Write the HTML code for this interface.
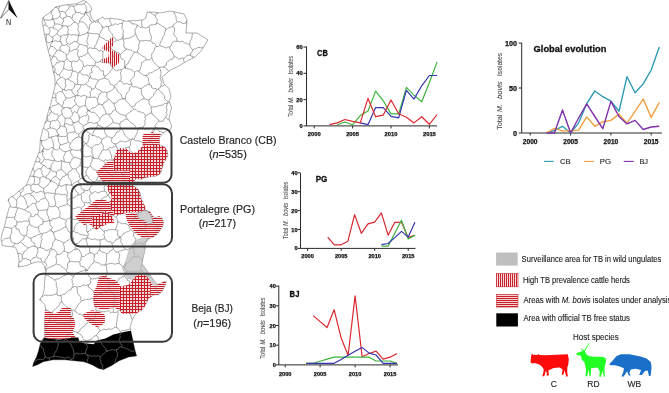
<!DOCTYPE html>
<html><head><meta charset="utf-8"><style>
html,body{margin:0;padding:0;background:#fff;overflow:hidden;}
svg{display:block;font-family:"Liberation Sans",sans-serif;will-change:transform;}
</style></head><body>
<svg width="669" height="393" viewBox="0 0 669 393">
<defs>
<pattern id="hz" width="4" height="2" patternUnits="userSpaceOnUse"><rect width="4" height="2" fill="#f8e4e4"/><rect width="4" height="1" fill="#c81e2a"/></pattern>
<pattern id="vt" width="2" height="4" patternUnits="userSpaceOnUse"><rect width="2" height="4" fill="#f8e4e4"/><rect width="1" height="4" fill="#c81e2a"/></pattern>
<pattern id="grid" width="3" height="3" patternUnits="userSpaceOnUse"><rect width="3" height="3" fill="#f6dcdc"/><rect width="3" height="1" fill="#c81e2a"/><rect width="1" height="3" fill="#c81e2a"/></pattern>
<pattern id="lg_vt" width="2" height="4" patternUnits="userSpaceOnUse"><rect width="2" height="4" fill="#f6dada"/><rect width="1" height="4" fill="#c8202a"/></pattern>
<pattern id="lg_hz" width="4" height="2" patternUnits="userSpaceOnUse"><rect width="4" height="2" fill="#f3d2d2"/><rect width="4" height="1" fill="#c8202a"/></pattern>
</defs>
<polygon points="42.2,22.4 43.2,17.3 50.4,12.0 55.4,7.0 64.6,5.0 76.8,3.7 83.0,0.5 86.0,1.5 90.7,6.0 91.5,9.0 90.0,13.7 92.2,19.8 95.3,21.4 103.0,16.8 104.4,19.0 110.5,18.3 116.6,19.0 121.2,19.8 125.8,21.4 130.4,20.6 136.5,20.6 142.6,19.8 145.6,18.3 147.2,12.2 153.3,12.2 160.0,13.0 170.5,11.0 184.0,14.0 187.0,20.0 186.0,33.0 197.0,33.0 208.0,40.0 201.0,51.0 195.0,57.0 187.0,61.0 177.0,67.0 170.5,70.0 162.0,77.0 164.0,84.0 169.0,88.5 171.0,97.0 169.0,101.0 171.5,107.6 170.2,112.7 168.9,119.0 171.5,125.4 170.8,129.2 165.0,131.5 161.7,134.9 159.4,137.2 159.4,144.8 164.8,147.1 167.1,150.9 167.8,155.5 165.5,160.1 163.2,163.9 161.7,169.3 160.2,173.8 155.6,176.1 149.5,176.9 144.9,177.6 141.9,179.2 135.8,178.4 131.5,185.1 137.7,188.7 140.4,194.0 141.3,199.4 143.1,203.0 144.9,206.5 144.9,210.1 150.2,211.9 152.0,215.4 154.7,218.1 159.1,216.3 161.8,218.1 163.6,221.7 162.7,226.1 160.0,230.6 157.3,234.1 153.8,236.8 148.4,238.6 145.4,243.4 144.5,251.4 142.8,258.5 141.9,263.9 147.2,271.0 150.5,276.0 153.5,279.9 157.1,284.8 161.3,283.1 163.7,281.5 166.2,281.5 165.4,284.8 163.7,288.1 162.1,291.4 157.9,294.7 154.6,294.7 151.3,296.4 148.0,298.9 146.4,303.0 144.7,306.3 142.2,309.6 139.7,311.3 136.4,313.0 134.8,315.0 132.4,319.8 130.0,327.0 130.8,330.7 132.7,339.4 134.7,349.1 136.6,356.0 128.8,356.9 119.1,360.8 111.3,365.7 103.6,369.6 98.7,368.6 91.9,364.7 84.1,361.8 74.4,360.8 64.7,359.8 53.0,359.8 43.3,361.8 37.5,364.7 32.6,366.6 33.6,362.8 36.5,356.9 38.5,351.1 40.4,343.3 43.3,338.5 44.8,336.5 44.5,325.8 44.8,316.6 45.6,310.5 44.8,304.4 41.8,301.4 39.5,299.8 41.8,296.8 43.3,293.7 44.1,289.2 44.8,280.0 45.8,271.6 44.3,265.5 41.2,262.5 38.2,261.7 32.0,263.2 29.0,264.8 22.9,266.3 18.3,267.0 19.1,261.0 18.3,254.8 16.8,250.3 15.3,247.2 9.2,246.5 2.3,245.7 1.5,241.0 1.0,239.9 2.0,233.8 4.1,227.7 6.1,219.6 8.1,211.4 10.2,205.3 8.1,200.2 9.1,198.2 14.2,195.2 20.3,190.0 26.4,185.0 30.5,174.6 33.6,166.5 36.6,158.3 39.7,150.2 40.4,139.2 42.4,131.0 44.4,125.0 46.5,118.9 48.5,110.7 50.5,104.6 52.6,96.5 55.0,86.0 55.0,78.0 53.0,70.0 51.0,61.0 48.3,51.0 45.9,40.7 44.2,32.6" fill="#fff" stroke="#777" stroke-width="0.6"/>
<path id="mun" d="M22.1,255.0 L23.5,253.9 L23.9,251.8 L25.6,250.9 L26.9,249.6 L27.7,247.9M22.1,255.0 L22.2,257.7M37.7,249.0 L38.0,251.1 L37.3,252.9 L36.7,254.8 L36.2,256.7M37.7,249.0 L37.1,247.1 L35.2,246.7M36.2,256.7 L35.0,257.9 L32.8,257.8 L31.8,259.4 L30.6,260.6M35.2,246.7 L33.1,246.1 L31.3,246.4 L29.5,247.5 L27.7,247.9M22.2,257.7 L23.7,258.7 L25.7,258.4 L27.3,259.4 L29.0,259.9 L30.6,260.6M71.1,310.0 L70.0,308.6 L68.3,307.8 L66.7,306.9 L65.3,305.8 L64.1,304.5 L62.9,303.2 L62.0,301.5M71.1,310.0 L72.2,311.8 L72.6,313.6 L72.7,315.3 L70.9,316.7 L70.6,318.3 L70.3,320.0 L70.8,321.7 L69.4,323.2M69.4,323.2 L67.7,323.0 L66.0,323.0 L64.2,323.3 L62.5,323.3 L60.8,323.3 L59.1,324.0 L57.4,323.5 L55.8,322.4 L54.1,322.3 L52.4,322.2 L50.7,322.4 L49.2,321.0M49.2,321.0 L49.6,319.4 L49.8,317.8 L50.5,316.3 L51.3,314.8M51.3,314.8 L52.5,313.6 L52.6,311.4 L53.7,310.2 L55.2,309.2 L56.7,308.1 L57.6,306.7 L58.8,305.5 L59.8,304.1 L60.3,302.3 L62.0,301.5M51.3,314.8 L50.4,313.1 L49.5,311.5 L47.9,310.7 L46.2,310.1 L45.4,308.8M62.0,301.5 L61.3,299.6 L61.8,297.2 L59.8,295.7M56.9,293.6 L57.7,295.5 L59.8,295.7M56.9,293.6 L55.3,294.4 L53.6,294.6 L52.1,295.6 L50.3,295.3 L48.6,295.2 L47.0,295.4 L45.2,295.0 L43.6,295.8 L42.1,297.0 L41.8,296.8M40.4,298.6 L40.4,299.7 L40.3,300.3M47.0,325.8 L47.6,324.2 L47.9,322.4 L49.2,321.0M47.0,325.8 L45.3,325.2 L44.5,325.2M22.1,255.0 L20.8,253.7 L19.0,253.4 L17.9,253.7M27.7,247.9 L26.5,246.7 L25.1,245.9 L23.8,245.0 L22.9,243.6 L21.4,242.9 L20.3,241.7M20.3,241.7 L18.8,243.5 L16.9,243.7 L14.8,243.1M14.8,243.1 L14.7,244.8 L12.4,246.4 L12.9,246.9M69.4,323.2 L70.2,324.7 L70.8,326.4 L71.4,328.0 L72.3,329.5 L73.1,331.1M47.0,325.8 L46.5,327.7 L46.5,329.5 L46.0,331.4 L47.5,333.2M65.4,339.5 L66.2,338.0 L66.5,336.1 L68.3,335.5 L69.4,334.3 L70.0,332.7 L72.1,332.4 L73.1,331.1M65.4,339.5 L64.0,340.8 L62.3,341.3 L60.4,341.5 L58.7,342.2M47.5,333.2 L49.1,333.7 L50.2,334.8 L51.3,336.1 L52.9,336.6 L53.7,338.2 L55.3,338.8 L56.5,339.8 L57.2,341.5 L58.7,342.2M141.0,310.4 L140.9,310.4 L139.6,308.9 L138.1,307.9 L136.5,307.3 L135.1,306.0 L133.3,305.6M132.5,319.7 L131.8,318.7 L131.5,317.1 L130.7,315.5 L130.5,313.8 L131.3,311.8 L131.6,309.9 L129.9,308.7M133.3,305.6 L131.0,306.5 L129.9,308.7M71.1,310.0 L73.0,310.0 L74.6,310.9M76.5,332.2 L74.8,331.6 L73.1,331.1M76.5,332.2 L78.6,332.1 L79.6,330.8 L80.2,329.0 L81.6,328.1 L82.8,327.1 L84.3,326.4 L85.0,324.7 L86.5,324.0 L87.4,322.6 L88.6,321.4 L89.2,319.7 L91.2,319.5M74.6,310.9 L76.0,311.9 L77.3,313.0 L78.6,314.1 L80.5,314.2 L81.9,315.2 L83.6,315.6 L85.0,316.5 L87.0,316.4 L88.2,317.9 L89.1,319.7 L91.2,319.5M192.8,49.7 L194.3,49.0 L196.0,48.8 L197.4,47.7 L199.0,47.4 L200.8,47.8 L202.5,47.7 L203.1,47.7M192.8,49.7 L192.1,51.9 L190.7,53.7M192.9,58.1 L193.0,56.3 L190.5,56.0 L190.7,53.7M192.8,49.7 L191.1,48.3 L190.2,46.3 L189.6,44.2M189.6,44.2 L187.9,44.2 L186.6,42.9 L184.9,43.2 L183.5,42.0 L182.1,41.2 L180.2,42.1 L178.7,41.4 L177.1,41.3M190.7,53.7 L189.4,55.3 L187.1,55.5 L185.5,56.8 L184.1,58.2M184.1,58.2 L182.4,58.1 L180.5,58.6 L178.6,59.3 L177.2,57.7 L175.6,57.1 L174.1,56.1M174.1,56.1 L173.6,54.6 L172.6,53.2 L172.2,51.6 L170.6,50.5 L170.0,49.0 L169.9,47.2M177.1,41.3 L174.6,41.2 L172.8,41.9 L171.6,43.5 L171.1,45.7 L169.9,47.2M189.6,44.2 L190.0,42.5 L190.2,40.7 L191.4,39.1 L192.0,37.4 L192.1,35.6 L192.4,33.9 L192.3,33.0M46.3,268.9 L45.3,267.4 L46.6,265.4 L46.3,263.8 L44.6,262.5M46.3,268.9 L47.9,267.9 L49.7,267.4 L51.4,266.6 L53.0,265.7 L54.8,265.2 L56.1,263.7M44.6,262.5 L45.1,260.9 L45.5,259.1 L47.2,258.1 L47.5,256.2 L49.2,255.2 L49.3,253.3 L49.4,251.4 L51.2,250.5 L52.4,249.1M52.4,249.1 L54.4,249.6 L55.5,251.0 L56.7,252.3 L57.1,254.3M56.1,263.7 L56.4,261.8 L56.9,260.0 L56.0,258.0 L55.9,256.1 L57.1,254.3M46.3,268.9 L46.0,270.8 L45.8,271.6M44.6,262.5 L42.9,262.0 L41.4,261.2 L41.1,258.6 L39.3,258.2 L37.5,257.7 L36.2,256.7M30.6,260.6 L30.7,262.5 L30.9,263.8M45.4,275.0 L45.5,275.1 L47.5,275.3 L49.1,276.2 L50.3,277.5 L52.1,278.0 L53.4,279.4 L54.9,280.3M54.9,280.3 L56.2,281.9 L56.3,283.5 L56.2,285.2 L56.8,286.8 L57.1,288.5 L57.5,290.1 L56.8,291.9 L56.9,293.6M1.6,241.7 L2.4,241.0 L3.6,239.7 L4.9,238.4 L6.8,238.7 L8.3,237.9 L10.2,238.1M10.2,238.1 L10.9,239.7 L11.1,241.8 L12.6,242.8 L14.8,243.1M86.9,362.8 L87.6,361.4 L87.2,359.7 L88.2,358.2 L88.2,356.5 L86.9,354.8M73.9,354.8 L75.5,353.6 L77.0,353.0 L78.8,354.1 L80.4,353.6 L82.1,353.8 L83.7,353.2 L85.4,353.7M73.9,354.8 L73.8,357.0 L73.2,358.8 L70.8,359.5M86.9,354.8 L85.4,353.7M70.8,359.5 L71.3,360.5M65.4,339.5 L67.2,340.5 L68.8,341.6 L69.7,343.1 L71.1,344.3 L71.7,346.0 L72.3,347.7 L73.2,349.2 L73.5,351.0 L74.0,352.7 L73.9,354.8M76.5,332.2 L77.9,333.1 L79.5,333.9 L81.0,334.7 L82.0,336.2 L82.7,338.0 L83.9,339.2 L85.0,340.5 L86.9,341.0M86.9,341.0 L86.9,342.8 L86.7,344.6 L87.4,346.6 L86.7,348.3 L86.1,350.1 L85.6,351.8 L85.4,353.7M58.7,342.2 L58.0,343.7 L58.2,345.6 L57.3,347.1 L57.2,348.9 L56.3,350.4 L55.4,352.0 L54.6,353.5 L53.9,355.1 L53.5,356.8M53.5,356.8 L55.3,356.2 L57.0,356.6 L58.8,356.6 L60.5,357.5 L62.3,357.3 L64.0,357.8 L65.7,358.1 L67.6,357.0 L69.3,357.6 L70.8,359.5M49.7,360.5 L49.4,360.1 L49.5,358.2M53.5,356.8 L51.3,357.0 L49.5,358.2M136.1,356.1 L136.3,355.0M120.2,332.0 L121.5,330.7 L123.1,330.4 L124.9,330.6 L126.4,330.0 L128.0,329.7 L129.5,329.0 L130.3,328.4M120.2,332.0 L120.5,333.6 L119.8,335.3 L120.3,337.0 L119.7,338.7 L119.1,340.4 L119.8,342.0 L120.1,343.7 L122.3,345.2 L121.4,346.9M121.4,346.9 L122.9,347.7 L124.6,347.7 L126.0,348.5 L127.5,349.0 L129.0,349.7 L130.4,350.8 L131.9,351.2 L133.6,351.1 L135.3,351.2M114.6,363.6 L114.6,363.6 L115.0,361.9 L115.6,360.1 L116.1,358.4 L117.4,356.7 L117.4,355.0 L117.5,353.3 L116.5,351.5 L116.4,349.8M100.4,357.0 L101.7,355.7 L103.1,354.5 L104.3,353.0 L105.7,351.8 L107.6,351.1M100.4,357.0 L99.9,358.8 L100.8,360.5 L100.7,362.3 L101.6,364.0 L102.8,365.6 L102.5,367.4 L102.3,369.3M102.3,369.3 L104.1,369.4M116.4,349.8 L114.7,350.2 L112.7,349.4 L111.0,349.9 L109.3,350.6 L107.6,351.1M121.4,346.9 L119.4,347.2 L118.3,349.2 L116.4,349.8M86.9,341.0 L88.5,340.2 L90.3,339.6 L91.9,338.9 L93.2,337.3 L94.5,335.9 L96.4,335.7M96.4,335.7 L97.8,336.8 L98.4,338.5 L99.2,340.1 L99.4,342.0 L101.4,342.7 L101.9,344.5 L103.1,345.8 L104.2,347.1 L105.5,348.4 L105.9,350.2 L107.6,351.1M86.9,354.8 L88.6,355.1 L90.2,355.8 L91.8,356.3 L93.7,355.8 L95.4,355.9 L97.1,356.0 L98.8,355.8 L100.4,357.0M102.2,369.3 L102.3,369.3M40.0,344.9 L40.1,345.1 L41.5,346.4 L42.2,348.1 L44.0,349.2 L43.6,351.3 L44.4,352.9 L44.9,354.6 L45.0,356.5M34.3,361.5 L35.6,360.9 L37.0,359.9 L38.8,359.5 L40.6,359.4 L42.6,359.6 L44.2,358.8 L45.0,356.5M47.5,333.2 L45.7,333.9 L44.8,335.5 L44.8,335.6M43.7,338.0 L43.4,339.2 L42.3,340.6 L41.8,341.0M49.5,358.2 L47.1,357.7 L45.0,356.5M33.5,363.4 L33.5,363.2 L33.7,362.6M169.3,119.9 L168.3,119.7 L167.0,118.7 L165.8,117.5M164.1,132.4 L162.5,132.5 L160.9,131.7 L159.2,131.4 L158.1,129.6 L157.1,127.6 L155.1,127.9M165.8,117.5 L164.2,118.6 L163.3,120.9 L161.3,121.3 L159.1,121.2M155.1,127.9 L155.1,125.6 L156.1,123.9 L157.6,122.6 L159.1,121.2M144.8,248.6 L144.3,247.4 L143.6,245.7 L143.0,243.9M148.4,238.7 L147.3,239.1 L146.4,240.5 L145.3,241.7 L144.1,242.7 L143.0,243.9M121.4,199.9 L122.7,201.5 L122.6,203.8 L122.7,206.1 L125.5,206.7M121.4,199.9 L123.1,199.1 L124.6,198.2 L125.3,196.7 L125.9,195.1 L126.2,193.2 L127.4,192.2M138.4,200.5 L136.6,200.9 L135.0,201.6 L133.3,202.2 L132.0,203.8 L130.4,204.4 L128.7,205.2 L127.2,206.2 L125.5,206.7M138.4,200.5 L137.7,199.2M137.7,199.2 L136.7,197.5 L135.0,196.8 L133.3,196.2 L131.7,195.3 L130.2,194.4 L129.2,192.8 L127.4,192.2M157.8,294.7 L158.1,293.8 L157.4,292.1 L156.9,290.4 L155.5,288.8 L155.6,287.0 L155.7,285.3 L156.0,283.5 L156.0,283.3M119.6,236.7 L119.7,238.1M119.6,236.7 L121.0,238.0 L121.1,239.8 L120.7,241.9 L121.9,243.3 L122.5,244.9 L122.9,246.6 L124.5,247.8 L125.5,249.2M119.7,238.1 L118.0,239.0 L116.0,239.4 L114.9,241.2 L113.5,242.6 L111.6,243.2M111.6,243.2 L112.4,245.1 L112.8,247.2 L113.5,249.1M113.5,249.1 L114.7,250.5 L115.8,252.1 L117.9,252.1M117.9,252.1 L119.3,251.0 L120.9,250.8 L122.5,250.4 L124.0,249.8 L125.5,249.2M93.6,319.6 L95.2,318.3 L95.3,316.2 L95.3,314.2 L95.0,312.0 L97.2,310.9M93.6,319.6 L94.4,321.0 L95.1,322.5 L95.9,324.0 L96.6,325.4 L97.7,326.7 L98.3,328.2 L99.4,329.5 L100.2,330.9M97.2,310.9 L98.8,310.8 L100.4,311.5 L102.0,311.8 L103.6,311.7 L105.2,311.8 L106.8,311.0 L108.5,310.8 L110.0,312.1 L111.5,312.7 L113.2,312.1M100.2,330.9 L101.8,330.1 L103.3,329.2 L105.0,329.4 L106.7,329.5 L108.4,329.1 L110.1,329.2 L111.7,329.1 L113.3,328.4 L114.8,327.2 L116.6,327.7M116.6,327.7 L116.3,325.9 L116.6,324.1 L116.3,322.4 L117.3,320.6 L117.1,318.9 L117.2,317.1 L117.9,315.4 L118.3,313.6 L117.7,311.8M117.7,311.8 L115.5,312.6 L113.2,312.1M91.2,319.5 L93.6,319.6M96.4,335.7 L97.4,333.8 L98.8,332.3 L100.2,330.9M120.2,332.0 L119.4,330.2 L118.3,328.7 L116.6,327.7M129.9,308.7 L128.1,309.2 L126.6,310.4 L124.6,309.8 L123.0,311.0 L121.0,310.2 L119.1,309.9 L117.7,311.8M113.5,294.7 L115.3,296.5 L115.1,298.2 L114.6,300.0 L114.2,301.7 L113.9,303.4 L113.8,305.2 L113.0,306.9 L113.3,308.7 L113.3,310.4 L113.2,312.1M113.5,294.7 L115.2,294.7 L116.9,294.7 L118.6,294.9 L120.3,294.7 L121.9,295.1 L123.6,295.6 L125.3,295.0 L126.9,295.8 L128.6,295.5 L130.3,295.2 L132.0,295.6 L133.7,295.7M133.7,295.7 L132.5,297.3 L133.0,298.9 L133.4,300.6 L133.2,302.2 L132.9,303.9 L133.3,305.6M74.6,310.9 L75.7,309.5 L76.3,307.9 L77.4,306.4 L77.9,304.7 L79.4,303.6 L80.6,302.3 L81.4,300.7M97.2,310.9 L95.7,309.5 L96.2,307.7 L95.6,306.1 L95.7,304.4 L96.7,302.4 L96.0,300.9 L94.5,299.5M81.4,300.7 L83.1,300.5 L84.6,299.9 L86.3,299.5 L87.9,299.4 L89.5,299.2 L91.1,298.6 L92.7,298.2 L94.5,299.5M109.3,289.6 L110.2,291.0 L111.5,292.1 L112.9,293.1 L113.5,294.7M109.3,289.6 L107.9,290.6 L106.6,291.5 L105.0,291.9 L103.6,292.7 L102.0,293.1 L100.5,293.6 L98.8,293.7 L97.5,295.0 L95.9,295.2M95.9,295.2 L95.8,297.5 L94.5,299.5M168.4,101.9 L169.7,102.8M168.4,101.9 L167.8,103.1M167.8,103.1 L167.1,104.7 L166.6,106.2 L166.1,107.8 L167.1,109.5 L166.8,111.1 L166.2,112.7 L167.1,114.4 L166.0,115.9 L165.8,117.5M158.0,89.0 L160.1,87.9 L161.0,85.7M158.0,89.0 L159.1,90.3 L160.3,91.4 L161.9,92.3 L162.6,93.9 L163.7,95.1 L164.6,96.5 L164.5,98.7 L165.8,99.7 L166.9,101.0 L168.4,101.9M161.0,85.7 L162.8,86.3 L164.3,84.8 L164.7,84.6M184.1,58.2 L183.4,59.9 L184.1,61.7 L184.2,62.7M174.1,56.1 L173.4,57.8 L172.4,59.2 L170.2,59.4 L169.1,60.7 L167.7,61.6 L166.5,62.7 L166.3,64.9 L164.7,65.6 L163.9,67.2M163.9,67.2 L165.5,67.9 L166.8,69.0 L168.0,70.4 L168.8,71.4M177.1,41.3 L176.8,39.6 L176.8,37.9 L175.3,36.6 L174.2,35.1 L173.5,33.6 L174.4,31.6 L174.5,29.8 L174.6,28.0 L172.9,26.8M169.9,47.2 L168.2,47.0 L166.2,48.1 L164.6,47.3 L162.9,46.6 L161.2,46.3 L159.7,45.2M159.7,45.2 L160.1,43.5 L160.6,41.9 L161.4,40.4 L162.4,39.0 L162.5,37.2 L164.0,35.9 L164.6,34.3 L164.7,32.6 L165.3,31.0 L165.9,29.4M165.9,29.4 L167.6,28.6 L169.2,27.6 L171.0,27.0 L172.9,26.8M186.0,22.8 L186.7,23.6M186.0,22.8 L184.2,23.4 L182.5,23.5 L181.0,22.1 L179.3,21.7 L177.6,21.8M177.6,21.8 L176.1,22.7 L174.9,23.9 L173.3,24.8 L172.9,26.8M165.9,29.4 L165.0,27.5 L163.6,26.8 L162.1,26.2 L160.8,25.1 L159.3,24.5 L158.2,23.1 L155.8,24.2M173.9,11.7 L174.1,12.7 L174.7,14.2 L175.5,15.6 L176.1,17.2 L176.1,18.9 L176.5,20.5 L177.6,21.8M158.3,12.8 L157.9,13.1 L156.2,13.8 L155.3,15.4M155.8,24.2 L156.7,22.4 L157.1,20.6 L157.1,18.9 L155.5,17.2 L155.3,15.4M103.9,238.7 L105.7,239.1 L106.7,240.9 L108.3,241.8 L110.5,241.6 L111.6,243.2M103.9,238.7 L104.8,236.8 L103.6,234.9 L104.5,233.1 L104.0,231.2M119.7,238.1 L118.5,236.7 L117.6,235.0 L117.6,232.8 L117.9,230.5 L115.3,229.8M104.0,231.2 L105.6,230.5 L107.3,230.8 L108.7,229.7 L110.3,229.5 L112.0,229.4 L113.6,229.8 L115.3,229.8M121.4,199.9 L119.7,200.4 L117.9,199.2 L116.1,199.4 L114.4,200.0 L112.6,200.3M112.6,200.3 L112.1,201.9 L110.6,203.4 L110.4,205.1 L111.1,206.8 L110.9,208.5 L110.2,210.1 L110.3,211.8 L109.5,213.3 L110.4,215.2M125.5,206.7 L126.2,208.6 L126.8,210.5M126.8,210.5 L124.9,210.5 L124.2,212.4 L122.6,212.9 L120.9,213.2 L119.6,214.2 L118.1,214.7 L117.1,216.3 L115.8,217.2M115.8,217.2 L114.3,215.8 L112.3,215.7 L110.4,215.2M87.0,238.2 L87.9,236.2M87.0,238.2 L88.6,238.2 L90.1,238.9 L91.7,239.4 L93.3,239.4 L95.0,238.7 L96.5,239.8 L98.1,239.9 L99.7,239.8M87.9,236.2 L88.4,233.9 L87.2,231.8M99.7,239.8 L101.9,239.8 L103.9,238.7M104.0,231.2 L102.3,230.5 L101.6,229.0 L100.2,228.1 L99.9,226.1M87.2,231.8 L89.0,231.5 L90.2,230.0 L91.6,228.8 L93.3,228.3 L95.1,228.0 L96.6,227.3 L98.7,227.6 L99.9,226.1M115.3,229.8 L115.7,228.2 L116.8,226.8 L117.0,225.1 L117.7,223.6 L117.5,221.8M115.8,217.2 L117.1,218.5 L117.3,220.1 L117.5,221.8M110.4,215.2 L108.3,214.9 L106.7,213.6M106.7,213.6 L105.2,214.7 L104.1,216.2 L103.7,218.0 L103.3,219.8 L102.6,221.4 L102.0,223.1 L100.6,224.4M100.6,224.4 L99.9,226.1M37.7,249.0 L38.8,247.4 L40.7,247.6M52.4,249.1 L50.5,248.8M40.7,247.6 L42.3,248.3 L43.9,248.6 L45.4,249.9 L47.0,250.6 L48.8,249.7 L50.5,248.8M54.9,280.3 L55.9,278.9 L58.0,279.2 L59.4,278.3 L60.8,277.3 L62.3,276.7 L63.6,275.6 L65.5,275.5 L66.6,274.3 L67.6,272.7M56.1,263.7 L57.5,264.6 L59.5,264.7 L60.9,265.6 L62.0,267.1 L63.6,267.8 L64.7,269.1 L66.0,270.2M67.6,272.7 L66.0,270.2M22.2,257.7 L22.3,259.6 L21.4,261.2 L18.9,262.2M18.6,264.6 L18.8,265.9 L18.7,266.9M135.6,176.9 L135.6,178.7M132.9,183.0 L132.5,183.3M135.6,176.9 L134.6,175.5 L135.0,173.2 L134.6,171.5 L133.2,170.4 L132.0,169.2 L129.8,168.7 L129.3,167.0M132.5,183.3 L131.0,184.2 L129.5,185.4 L128.3,186.9 L126.2,187.0M126.2,187.0 L126.3,185.1 L125.6,183.4 L125.1,181.8 L124.3,180.2 L124.0,178.4 L123.9,176.6 L123.4,174.9 L121.7,173.7M121.7,173.7 L122.9,172.5 L124.4,171.7 L126.2,171.2 L127.5,170.1 L128.9,169.1 L129.3,167.0M135.6,176.9 L136.8,175.5 L138.7,176.0 L140.2,175.1 L141.7,174.6 L143.3,174.2M143.3,174.2 L144.2,172.7 L145.1,171.3 L146.6,170.2 L147.2,168.5M147.2,168.5 L147.4,166.8 L147.2,165.1M147.2,165.1 L145.6,164.8 L144.0,164.1 L142.3,164.2 L140.5,165.0 L138.8,165.1 L137.2,164.6 L135.5,164.3 L133.9,163.9 L132.1,164.5 L130.7,162.5M129.3,167.0 L129.5,164.6 L130.7,162.5M138.4,71.0 L139.6,72.4 L141.1,73.4 L142.5,74.4 L144.0,75.5 L146.1,75.3M138.4,71.0 L140.2,70.1 L140.3,68.0 L141.0,66.4 L141.7,64.8 L141.5,62.5 L143.6,61.9 L144.7,60.5 L146.4,59.6M146.1,75.3 L147.9,75.1 L148.9,73.3 L150.5,72.8 L152.3,72.5 L153.5,71.3 L155.0,70.4 L156.8,70.2 L158.1,69.0 L159.4,68.0M146.4,59.6 L148.5,59.9 L150.3,59.5 L151.8,57.8M151.8,57.8 L152.4,59.5 L153.1,61.3 L154.1,62.7 L155.3,64.0 L156.5,65.2 L157.9,66.3 L159.5,67.3M159.4,68.0 L159.5,67.3M134.7,72.3 L136.2,70.8 L138.4,71.0M134.7,72.3 L133.2,71.1 L131.7,70.0 L130.1,69.2 L128.2,69.0 L126.4,68.4 L124.8,67.6M137.3,52.3 L138.8,53.0 L139.9,54.3 L141.5,55.0 L142.6,56.2 L144.3,56.8 L145.6,57.8 L146.4,59.6M137.3,52.3 L134.9,52.3M134.9,52.3 L133.7,53.5 L132.8,54.9 L132.0,56.4 L130.9,57.6 L130.5,59.4 L129.2,60.5 L128.5,62.1 L128.0,63.7 L126.3,64.6 L125.6,66.1 L124.8,67.6M157.1,90.0 L155.9,88.4 L153.5,88.6 L151.8,87.7 L151.3,85.2 L149.4,84.7M157.1,90.0 L158.0,89.0M161.0,85.7 L160.9,84.1 L162.0,82.4 L161.0,80.8 L160.7,79.2 L160.0,77.7 L160.7,76.0 L160.8,74.4 L161.0,72.7 L160.6,71.1 L160.4,69.5 L159.4,68.0M149.4,84.7 L149.2,83.0 L148.6,81.5 L148.5,79.7 L148.5,78.0 L146.8,76.8 L146.1,75.3M163.9,67.2 L161.7,67.1 L159.5,67.3M159.7,45.2 L158.1,46.7 L156.0,46.5M156.0,46.5 L154.7,47.9 L154.6,49.7 L153.7,51.2 L152.5,52.6 L151.7,54.1 L151.7,55.9 L151.8,57.8M135.1,216.0 L135.1,217.2M135.1,216.0 L134.6,217.6 L133.7,219.0 L133.2,220.7 L131.6,221.6 L130.7,223.0 L129.7,224.3 L128.9,225.8M135.1,217.2 L136.1,218.8 L137.2,220.3 L138.9,221.1 L140.4,222.0 L142.4,222.4 L144.1,223.1 L145.0,225.0M134.1,232.6 L135.9,232.7 L137.3,231.8 L138.6,230.8 L139.8,229.4 L141.5,229.3 L143.1,229.0 L144.6,228.5M134.1,232.6 L132.4,231.2 L130.9,229.6M144.6,228.5 L145.5,226.8 L145.0,225.0M128.9,225.8 L129.5,227.9 L130.9,229.6M138.4,200.5 L138.9,202.1 L139.4,203.7 L139.6,205.4 L139.3,207.3 L140.6,208.6 L141.7,210.0M126.8,210.5 L128.1,211.5 L129.3,212.8 L131.2,212.9 L132.7,213.6 L134.4,214.0 L135.1,216.0M141.7,210.0 L141.3,211.8 L139.8,212.6 L138.4,213.6 L138.1,215.5 L136.7,216.5 L135.1,217.2M117.5,221.8 L119.2,222.1 L120.7,223.0 L122.3,223.7 L124.2,223.5 L125.9,223.7 L127.5,224.5 L128.9,225.8M141.7,210.0 L143.4,210.3 L145.0,210.3 L146.7,211.3 L148.3,211.3 L149.0,211.5M152.7,222.4 L151.2,223.0 L149.9,224.2 L148.4,224.8 L147.0,225.8 L145.0,225.0M152.7,222.4 L152.8,220.6 L151.9,218.9 L151.7,217.2 L151.8,215.4 L151.9,215.2M148.9,238.4 L148.4,236.7 L146.7,235.4 L145.7,233.9 L145.7,231.9 L144.8,230.4 L144.6,228.5M143.0,243.9 L141.1,243.0 L139.1,242.9 L137.2,243.3 L135.2,243.7M135.2,243.7 L135.3,241.8 L135.9,239.9 L135.6,238.1 L133.6,236.4 L133.5,234.6 L134.1,232.6M135.2,243.7 L133.7,245.2 L133.4,247.3M119.6,236.7 L121.4,236.5 L122.6,235.2 L123.3,233.3 L125.2,233.1 L126.4,231.9 L128.3,231.7 L129.6,230.7 L130.9,229.6M133.4,247.3 L132.0,248.3 L130.3,248.2 L128.8,249.1 L127.4,249.9 L125.5,249.2M152.7,222.4 L153.8,223.9 L155.1,225.1 L157.1,225.1 L158.6,225.9M152.7,237.2 L153.0,236.6 L154.0,235.2 L154.9,233.7 L156.3,232.4 L156.8,230.8 L157.1,228.9 L157.5,227.2 L158.6,225.9M158.6,225.9 L160.7,225.9 L162.3,226.8M138.1,189.5 L138.5,190.8 L139.2,192.7 L139.6,194.7M140.6,195.0 L139.6,194.7M137.7,199.2 L139.0,198.0 L139.9,196.6 L139.6,194.7M132.5,183.3 L132.6,183.3M127.4,192.2 L126.9,190.3 L124.7,189.2 L125.1,186.9M126.2,187.0 L125.1,186.9M143.3,174.2 L144.1,175.6 L145.1,176.9 L146.3,177.4M147.2,168.5 L148.8,168.9 L150.4,169.4 L152.1,169.4 L153.6,170.8 L155.2,171.1 L156.9,171.3 L158.8,170.5 L160.3,171.2M160.4,173.1 L160.4,173.0 L160.3,171.2M105.1,265.2 L103.4,264.9 L101.4,265.3 L100.2,263.7 L98.7,263.1 L97.1,262.5 L95.5,262.0 L94.2,260.9M105.1,265.2 L105.6,263.6 L106.0,262.1 L106.5,260.5 L106.6,258.9 L106.5,257.2 L106.4,255.6 L106.9,254.0M99.3,250.2 L101.0,250.6 L102.2,252.1 L103.9,252.4 L105.6,252.9 L106.9,254.0M99.3,250.2 L97.9,251.4 L97.3,253.3 L95.4,254.0 L94.4,255.6M94.4,255.6 L94.5,257.3 L93.8,259.1 L94.2,260.9M99.7,239.8 L100.2,241.6 L100.3,243.3 L100.0,245.0 L99.9,246.8 L99.8,248.5 L99.3,250.2M113.5,249.1 L112.2,250.1 L110.5,250.5 L109.6,252.1 L108.2,253.0 L106.9,254.0M87.0,238.2 L86.3,238.2M91.2,252.8 L89.3,251.6 L89.7,249.7 L90.0,247.8 L88.9,246.3 L87.2,245.1 L87.3,243.3 L86.2,241.8 L86.5,239.9 L86.3,238.2M91.2,252.8 L93.3,253.6 L94.4,255.6M152.7,295.7 L152.3,295.4 L150.8,294.1 L149.2,293.5 L147.4,294.0 L145.8,293.7 L143.9,294.2 L142.3,293.7 L140.9,292.3 L139.0,293.0 L137.3,293.0 L135.7,292.3M150.1,275.4 L149.3,275.6 L147.5,274.5M147.5,274.5 L147.8,276.7 L146.4,277.8 L145.2,278.9 L144.4,280.4 L143.0,281.4 L141.9,282.7 L140.8,283.9 L138.9,284.6 L138.2,286.1 L137.8,287.8 L137.6,289.6 L136.3,290.7 L135.7,292.3M133.7,295.7 L133.9,293.2M133.9,293.2 L135.7,292.3M142.7,259.3 L142.4,259.3M133.4,247.3 L134.0,249.3 L133.8,251.2 L134.1,253.1 L134.5,255.0 L133.0,256.8M142.4,259.3 L141.0,258.5 L139.7,256.9 L138.3,255.9 L136.4,256.8 L134.7,256.6 L133.0,256.8M147.5,274.5 L145.8,273.3 L143.8,272.6 L142.2,271.2M142.4,259.3 L142.0,261.0 L142.3,261.6M142.1,264.1 L142.0,264.4 L141.3,266.1 L141.2,267.8 L140.5,269.5 L142.2,271.2M150.2,40.6 L148.4,40.9 L146.5,40.4 L144.7,40.4 L143.0,41.0 L141.1,40.4 L139.4,41.7M150.2,40.6 L151.4,38.8 L151.3,37.0 L151.0,35.3 L150.1,33.6 L149.6,31.9 L149.4,30.2 L149.6,28.4 L149.1,26.7M139.4,41.7 L139.1,39.9 L137.4,38.9 L137.0,37.1 L136.5,35.4 L135.5,34.0M135.5,34.0 L135.4,32.2 L134.9,30.3 L135.7,28.6 L136.7,27.0 L137.0,25.2M149.1,26.7 L147.5,27.4 L145.9,28.2 L144.2,27.5 L142.5,27.1M137.0,25.2 L138.8,25.9 L140.3,27.4 L142.5,27.1M137.3,52.3 L137.5,50.5 L138.7,48.9 L138.9,47.1 L138.5,45.2 L139.4,43.5 L139.4,41.7M156.0,46.5 L155.4,44.7 L154.4,43.4 L152.3,43.2 L151.8,41.4 L150.2,40.6M155.8,24.2 L154.1,24.7 L152.3,25.0 L150.3,24.9 L149.1,26.7M134.9,52.3 L133.2,51.8 L131.8,50.4 L130.0,50.0 L128.3,49.5 L126.6,48.9M135.5,34.0 L134.3,35.6 L132.8,36.5 L131.3,37.3 L129.7,38.0 L128.1,38.4 L126.3,38.4 L124.8,39.2 L122.8,38.6M126.6,48.9 L124.4,47.8 L123.9,46.0 L123.7,44.1 L124.1,42.0 L123.4,40.4 L122.8,38.6M186.0,22.8 L186.7,20.8 L186.9,20.8M155.3,15.4 L153.4,14.9 L151.9,13.4 L150.2,12.3 L149.3,12.2M142.5,27.1 L141.9,25.6 L141.5,24.0 L141.9,22.2 L141.9,20.6 L142.0,19.9M147.7,12.2 L147.2,12.3M90.8,278.5 L90.0,277.0 L88.5,275.9 L87.9,274.2 L86.7,272.9 L85.4,271.7 L85.7,269.6M90.8,278.5 L90.0,280.5 L91.0,283.0 L88.7,284.5M85.7,269.6 L84.2,270.3 L82.7,271.0 L80.9,271.3 L79.4,272.1 L77.9,272.8 L76.2,273.2 L74.8,274.1 L73.8,275.9M88.7,284.5 L87.0,285.0 L85.3,285.6 L83.4,284.9 L81.7,285.8 L80.1,286.8 L78.3,286.6 L76.5,287.1M73.8,275.9 L73.0,277.5 L71.8,279.0 L72.3,280.7 L72.2,282.3 L73.3,284.0 L72.6,285.6 L73.3,287.2M73.3,287.2 L74.9,286.1 L76.5,287.1M81.4,300.7 L80.4,299.4 L80.9,297.5 L79.9,296.1 L78.8,294.8 L77.7,293.5 L77.5,291.8 L77.2,290.3 L77.2,288.5 L76.5,287.1M95.9,295.2 L95.1,293.8 L93.7,292.8 L93.7,290.9 L92.1,290.0 L90.8,288.9 L89.7,287.7 L88.1,286.9 L88.7,284.5M59.8,295.7 L61.6,295.3 L63.1,294.2 L65.1,294.0 L66.4,292.8 L67.5,291.3 L68.9,290.2 L70.9,290.1 L71.5,287.7 L73.3,287.2M67.6,272.7 L69.5,272.8 L70.4,274.8 L71.8,275.9 L73.8,275.9M157.1,90.0 L156.0,91.2 L154.8,92.3 L154.1,93.8 L153.5,95.5 L152.4,96.6 L150.9,97.5 L150.2,99.0 L148.7,99.9M167.8,103.1 L166.1,103.4 L164.4,103.5 L163.1,104.9 L161.4,105.3 L159.8,105.6 L158.1,105.8 L156.6,106.7 L154.9,106.7 L153.3,107.1 L151.5,106.8M148.7,99.9 L149.1,101.7 L149.0,103.8 L150.1,105.4 L151.5,106.8M159.1,121.2 L158.2,119.5 L156.7,118.4 L155.5,117.0 L154.4,115.6 L152.6,114.7 L151.8,113.0M151.5,106.8 L151.0,108.9 L151.5,110.9 L151.8,113.0M115.7,109.1 L115.1,107.1 L114.3,105.2 L113.9,103.1M115.7,109.1 L114.4,110.2 L112.8,111.0 L111.9,112.6 L110.8,114.0 L108.8,114.2M101.8,104.8 L102.8,106.1 L103.7,107.6 L104.4,109.1 L105.2,110.5 L105.9,112.1 L106.2,113.8M101.8,104.8 L103.6,104.1 L104.2,102.1 L106.5,102.0 L107.2,100.1 L108.6,99.0M108.6,99.0 L110.0,99.9 L111.2,101.2 L112.1,102.8 L113.9,103.1M108.8,114.2 L106.2,113.8M127.6,118.9 L125.7,119.4 L123.8,120.1 L122.3,121.3 L120.4,121.9 L119.9,124.4M127.6,118.9 L126.1,117.7 L125.8,115.9M125.8,115.9 L124.3,115.0 L122.2,114.9 L120.6,114.2 L119.2,113.3 L117.8,112.2 L116.2,111.4 L115.7,109.1M119.9,124.4 L118.3,123.6 L116.6,123.2 L114.8,123.0 L113.3,122.3M108.8,114.2 L109.5,115.9 L110.6,117.4 L111.9,118.8 L112.7,120.5 L113.3,122.3M167.7,155.7 L166.3,156.1 L164.9,157.1 L163.5,158.1 L161.8,158.4 L160.2,158.8M160.2,158.8 L160.3,160.6 L161.7,162.4 L161.5,164.2 L161.9,165.9 L162.3,167.2M161.9,168.7 L161.4,169.6 L161.0,171.4M161.0,171.3 L161.0,171.4M166.8,150.4 L166.7,150.9 L166.6,152.5 L167.5,154.1 L167.7,154.7M162.7,146.2 L161.6,147.2 L160.0,147.2 L158.4,147.6 L156.7,146.9 L155.1,146.2M155.1,146.2 L154.7,147.9 L152.9,149.4 L153.1,151.3 L152.2,152.9 L152.1,154.7 L153.2,156.7M153.2,156.7 L154.9,157.2 L156.8,157.4 L158.2,158.8 L160.2,158.8M147.9,159.9 L148.1,161.7 L147.6,163.4 L147.2,165.1M147.9,159.9 L150.2,159.8 L151.2,157.4 L153.2,156.7M160.3,171.2 L161.0,171.4M124.6,276.2 L125.3,274.3 L126.1,272.5 L127.1,270.8M124.6,276.2 L122.6,276.2 L121.5,277.7 L119.6,278.0 L118.6,279.8 L117.5,281.3 L115.9,282.1 L114.6,283.3 L112.7,283.4 L110.9,283.8 L109.2,284.3M118.9,263.4 L120.6,264.6 L122.1,265.9 L123.7,267.2M118.9,263.4 L117.3,263.5 L115.7,264.0 L114.0,264.1 L112.3,263.2 L110.6,263.4 L109.0,263.8 L107.4,264.1 L105.8,264.7M123.7,267.2 L124.6,268.7 L125.7,269.9 L127.1,270.8M105.8,264.7 L106.6,266.5 L106.5,268.3 L106.7,270.0 L107.3,271.8 L106.8,273.6 L106.6,275.4 L106.0,277.3M109.2,284.3 L109.3,282.1 L108.4,280.4 L106.9,279.0 L106.0,277.3M133.9,293.2 L133.4,291.7 L132.5,290.3 L132.0,288.8 L131.9,287.0 L130.9,285.7 L130.0,284.3 L129.6,282.7 L129.3,281.0 L127.2,280.3 L127.2,278.5 L125.5,277.6 L124.6,276.2M142.2,271.2 L140.5,270.6 L138.8,270.9 L137.2,271.3 L135.5,270.8 L133.8,271.4 L132.1,271.3 L130.4,271.0 L128.7,271.3 L127.1,270.8M109.3,289.6 L108.8,287.8 L107.8,286.1 L109.2,284.3M117.9,252.1 L119.6,253.6 L119.7,255.2 L119.4,256.8 L119.1,258.5 L118.3,260.2 L119.5,261.7 L118.9,263.4M133.0,256.8 L131.7,258.0 L131.0,259.7 L129.9,261.1 L128.6,262.3 L127.0,263.2 L125.4,264.0 L125.3,266.3 L123.7,267.2M105.1,265.2 L105.8,264.7M87.1,271.0 L85.7,269.6M87.1,271.0 L88.0,269.4 L89.1,268.1 L89.8,266.4 L91.0,265.1 L92.5,264.0 L93.4,262.5 L94.2,260.9M90.8,278.5 L92.5,279.1 L94.2,278.3 L95.9,278.7 L97.5,277.7 L99.2,277.6 L101.0,277.9 L102.7,277.8 L104.3,277.2 L106.0,277.3M111.6,43.7 L113.0,42.3 L114.9,41.5 L116.3,40.2M111.6,43.7 L110.1,42.6 L108.8,41.2 L107.2,40.5 L105.2,40.3 L104.1,38.7 L102.3,38.2 L100.9,37.0 L99.2,36.4M116.3,40.2 L115.5,38.6 L114.1,37.4 L112.7,36.2 L112.5,34.3 L111.4,33.0 L110.0,31.7 L109.0,30.3 L108.7,28.4 L108.0,26.8M99.2,36.4 L99.3,35.4M99.3,35.4 L99.6,33.7 L100.7,32.1 L101.1,30.3 L102.8,29.0 L102.2,26.9M108.0,26.8 L106.0,26.1 L104.1,27.4 L102.2,26.9M98.4,21.3 L96.6,22.3 L94.4,21.8 L92.5,22.3M98.4,21.3 L99.1,22.8 L100.3,24.1 L101.7,25.2 L102.2,26.9M87.6,32.9 L88.1,31.4 L89.1,30.0 L89.1,28.3M87.6,32.9 L89.3,33.0 L91.0,33.4 L92.7,33.7 L94.4,33.7 L96.1,33.8 L97.9,33.7 L99.3,35.4M92.5,22.3 L91.2,23.6 L89.6,24.7 L89.5,26.6 L89.1,28.3M10.2,238.1 L10.4,236.4 L10.1,234.8 L11.7,233.3 L11.7,231.7 L11.7,230.0 L11.2,228.4M11.2,228.4 L9.5,227.9 L7.9,227.4 L6.1,227.5 L4.4,227.1 L4.3,227.1M77.4,248.9 L75.9,249.9 L73.9,249.4 L72.5,250.6 L71.1,251.9 L69.5,252.8 L67.6,252.7M77.4,248.9 L79.2,249.8 L79.7,251.4 L81.0,252.6 L81.2,254.5 L81.7,256.1M79.5,261.7 L77.8,262.0 L76.2,261.4 L74.5,261.9 L72.8,261.6 L71.2,261.2 L69.5,262.0M79.5,261.7 L81.1,260.2 L80.8,258.0 L81.7,256.1M69.5,262.0 L69.4,260.1 L68.9,258.2 L67.6,256.5 L67.9,254.5 L67.6,252.7M91.2,252.8 L89.5,253.1 L88.0,253.8 L86.5,254.6 L85.0,255.5 L83.8,256.9 L81.7,256.1M86.3,238.2 L84.9,239.1 L82.7,238.7 L81.4,239.8 L80.2,241.0 L79.1,242.2 L77.9,243.5 L75.9,243.5 L75.4,245.6M75.4,245.6 L75.0,248.1 L77.4,248.9M66.0,270.2 L67.5,268.9 L67.7,267.0 L67.4,265.0 L67.8,263.2 L69.5,262.0M87.1,271.0 L86.6,269.2 L85.1,268.2 L83.9,267.0 L81.9,266.4 L80.1,265.7 L80.1,263.4 L79.5,261.7M57.1,254.3 L59.3,254.5 L61.0,253.7 L62.3,252.1 L64.0,251.1M64.0,251.1 L65.9,251.7 L67.6,252.7M147.9,159.9 L147.7,157.8 L146.0,157.2 L144.3,156.7 L142.5,156.2 L141.7,154.7 L141.2,152.9M130.7,162.5 L130.5,165.0M141.2,152.9 L139.3,153.8 L137.4,154.8 L135.2,155.0M130.5,165.0 L131.7,163.5 L132.0,161.6 L132.6,159.8 L133.6,158.3 L134.8,156.8 L135.2,155.0M150.3,141.5 L150.5,139.8 L150.6,138.1 L152.7,137.2 L153.8,135.8 L153.7,134.1 L153.0,132.1 L154.1,130.8M150.3,141.5 L148.5,141.8 L146.8,142.6 L145.1,143.8 L143.0,143.0M143.0,143.0 L141.5,141.7 L139.6,141.2 L137.8,140.5 L135.6,141.1 L134.2,139.4M154.1,130.8 L152.8,129.4 L151.4,128.3 L149.4,128.9 L147.6,128.8 L145.7,129.2 L144.0,129.0 L142.9,127.0M134.2,139.4 L134.6,137.8 L135.5,136.4 L136.0,134.9 L136.9,133.5 L137.4,131.9 L137.7,130.3 L138.2,128.7M142.9,127.0 L141.3,127.5 L139.4,127.2 L138.2,128.7M155.1,127.9 L154.1,130.8M155.1,146.2 L153.6,145.3 L152.6,144.0 L151.8,142.3 L150.3,141.5M141.2,152.9 L141.0,151.2 L142.1,149.7 L142.0,147.9 L142.8,146.3 L143.6,144.8 L143.0,143.0M145.5,115.8 L147.0,115.0 L148.6,114.2 L150.0,113.2 L151.8,113.0M145.5,115.8 L144.7,117.3 L145.8,119.2 L144.7,120.7 L145.1,122.4 L145.0,124.1 L144.2,125.6 L142.9,127.0M127.6,118.9 L128.4,120.3 L129.6,121.4 L130.7,122.6 L132.3,123.3 L133.6,124.2 L134.7,125.4 L135.3,127.1 L136.5,128.2 L138.2,128.7M125.8,115.9 L126.8,114.3 L128.2,113.2 L129.7,112.3 L131.0,111.2 L132.7,110.4 L133.9,109.2M133.9,109.2 L135.8,109.3 L137.0,110.5 L138.3,111.6 L140.2,111.7 L141.5,112.7 L143.4,112.7 L144.5,114.1 L145.5,115.8M133.9,109.2 L132.0,107.3M148.7,99.9 L147.1,99.7 L145.6,99.1 L144.0,98.9M144.0,98.9 L142.0,98.9 L140.9,100.1 L139.6,101.1 L138.1,101.7 L136.9,102.9 L135.5,103.7 L135.0,105.8 L133.3,106.3 L132.0,107.3M149.4,84.7 L147.5,84.3 L146.3,85.8 L144.6,86.0 L143.2,87.1 L141.9,88.4 L140.1,88.2M144.0,98.9 L143.9,97.2 L143.0,95.8 L141.5,94.6 L141.4,92.9 L141.6,91.1 L141.2,89.5 L140.1,88.2M111.2,25.4 L112.8,25.2 L114.3,24.3 L115.9,23.8 L117.7,24.8 L119.2,23.8 L120.7,23.4 L122.4,23.4M111.2,25.4 L111.2,23.7 L110.3,22.2 L109.7,20.6 L110.2,18.8 L110.0,18.4M122.4,23.4 L123.2,21.3 L123.9,20.7M123.3,35.7 L122.4,37.3 L121.6,39.2 L119.7,39.3 L118.4,40.3 L116.3,40.2M123.3,35.7 L122.9,33.9 L123.2,32.1 L123.4,30.4 L121.9,28.7 L122.1,26.9 L122.4,25.1 L122.4,23.4M108.0,26.8 L109.6,26.3 L111.2,25.4M98.1,19.7 L98.4,21.3M137.0,25.2 L135.6,24.3 L134.0,23.8 L132.0,24.0 L131.1,22.0 L129.4,21.7 L128.0,21.0M122.8,38.6 L123.3,35.7M109.9,47.3 L108.4,48.1 L106.5,48.1 L105.3,49.3 L104.0,50.4 L102.9,51.7M109.9,47.3 L110.8,45.5 L111.6,43.7M99.2,36.4 L98.6,38.1 L97.8,39.7 L97.3,41.4 L96.7,43.2 L95.8,44.8 L94.6,46.2 L94.8,48.3M102.9,51.7 L101.4,50.7 L99.4,51.0 L97.8,50.1 L96.6,48.7 L94.8,48.3M87.6,32.9 L87.5,32.5M89.1,28.3 L87.4,27.6 L86.7,25.7 L85.8,24.1 L84.4,23.1 L83.2,21.8 L80.8,22.0 L79.6,20.8M79.6,20.8 L79.4,22.8 L77.7,24.0M77.7,24.0 L78.8,25.8 L78.1,27.7 L77.6,29.6 L78.7,31.4 L79.3,33.2 L78.7,35.1M87.5,32.5 L85.8,33.5 L84.2,34.3 L82.4,34.6 L80.8,35.5 L78.7,35.1M94.8,48.3 L93.1,48.5 L91.3,48.1 L89.6,47.7 L87.9,48.6M87.9,48.6 L86.7,46.0M87.5,32.5 L88.4,34.3 L88.3,36.0 L87.8,37.6 L87.4,39.3 L86.8,40.9 L87.2,42.6 L88.1,44.4 L86.7,46.0M84.7,13.7 L85.5,11.6M84.7,13.7 L82.8,14.1 L81.2,13.5 L79.8,12.5 L77.9,12.7 L76.3,12.1 L75.1,10.5M83.8,4.0 L82.1,4.4 L80.3,4.3 L78.5,4.5 L76.8,4.8M83.8,4.0 L85.5,5.5 L86.3,7.2 L86.2,9.1 L86.9,10.8 L86.2,13.0M86.2,13.0 L85.5,11.6M76.8,4.8 L75.2,6.0 L73.1,6.2M73.1,6.2 L74.2,8.3 L75.1,10.5M92.5,22.3 L90.9,21.2 L89.9,19.7 L89.8,17.5 L88.4,16.3 L87.3,14.8 L85.8,13.6 L85.5,11.6M79.6,20.8 L80.6,19.4 L81.3,17.8 L82.8,16.7 L84.4,15.7 L84.7,13.7M86.4,1.8 L85.3,2.3 L83.8,4.0M76.8,3.7 L76.8,4.8M90.7,11.5 L89.8,11.5 L88.2,12.6 L86.2,13.0M69.7,6.3 L68.1,5.6 L67.6,4.7M69.7,6.3 L71.4,5.8 L73.1,6.2M87.2,231.8 L86.6,230.1 L86.6,228.2 L86.9,226.2 L86.3,224.5 L85.0,223.0 L83.8,221.5 L83.6,219.6M100.6,224.4 L99.0,223.8 L98.2,221.8 L97.3,220.1 L95.6,219.6 L94.3,218.7 L92.9,217.6 L90.6,218.4M83.6,219.6 L85.2,218.6 L87.1,219.3 L88.9,218.9 L90.6,218.4M112.6,200.3 L111.5,198.9 L109.9,198.0 L109.0,196.4 L108.1,194.8M125.1,186.9 L123.4,186.5 L121.8,185.4 L120.2,185.9 L118.5,186.1 L116.8,186.5M108.1,194.8 L109.6,193.9 L110.1,191.9 L111.1,190.4 L112.4,189.4 L114.1,188.6 L114.9,186.9 L116.8,186.5M121.7,173.7 L120.3,172.4 L118.6,172.3 L117.0,172.0 L115.3,171.8M130.5,165.0 L128.9,164.2 L128.1,162.4 L127.0,161.1 L125.6,160.0 L124.1,159.0 L122.4,158.3 L121.2,157.1M121.2,157.1 L119.3,156.5 L117.9,157.4 L116.4,158.1 L115.2,159.6 L113.5,159.7M115.3,171.8 L115.4,170.1 L116.6,168.1 L115.4,166.5 L115.0,164.8 L113.8,163.2 L113.8,161.5 L113.5,159.7M135.2,155.0 L133.7,154.0 L132.6,152.7 L131.2,151.6 L130.1,150.4 L129.5,148.7 L129.2,146.8M134.2,139.4 L132.1,138.8M132.1,138.8 L131.6,140.5 L130.5,141.9 L130.6,143.7 L130.3,145.4 L129.2,146.8M121.2,157.1 L121.2,155.2 L121.3,153.3M129.2,146.8 L127.6,147.5 L125.5,147.7 L125.0,149.7 L123.4,150.6 L122.6,152.2 L121.3,153.3M113.9,103.1 L115.7,103.1 L117.1,102.3 L118.1,100.5 L119.5,99.7 L121.1,99.3 L122.7,98.8 L124.4,98.9M132.0,107.3 L130.7,106.2 L129.8,104.8 L128.6,103.6 L127.6,102.3 L126.1,101.3 L125.3,99.8 L125.5,97.7M124.4,98.9 L125.5,97.7M140.1,88.2 L138.3,88.0 L136.8,86.9 L135.0,86.9 L133.1,87.0 L131.7,85.6M125.5,97.7 L125.6,95.8 L126.4,94.3 L127.1,92.8 L128.4,91.6 L129.5,90.2 L129.3,88.2 L130.3,86.8 L131.7,85.6M134.7,72.3 L134.4,74.1 L134.3,75.9 L133.5,77.5 L131.7,78.9 L130.4,80.3 L131.3,82.4 L131.8,84.3M131.8,84.3 L131.7,85.6M69.7,6.3 L68.9,8.1 L67.7,9.5 L66.5,11.0 L65.4,12.5M75.1,10.5 L75.8,12.7 L74.3,14.0 L72.5,15.2 L72.5,17.1 L71.7,18.7M65.4,12.5 L65.9,14.2 L66.4,15.8M66.4,15.8 L68.4,16.5 L70.5,16.7 L71.7,18.7M77.7,24.0 L75.6,22.4M71.7,18.7 L72.9,20.0 L74.1,21.4 L75.6,22.4M63.1,19.4 L63.8,17.8 L65.8,17.5 L66.4,15.8M63.1,19.4 L63.9,21.0 L62.6,22.8 L62.3,24.6 L63.5,26.2M75.6,22.4 L73.6,22.7 L72.2,24.0 L70.7,25.3 L69.0,26.1 L67.1,26.5M67.1,26.5 L65.3,25.6 L63.5,26.2M58.5,31.0 L59.5,29.8 L60.5,28.5 L62.0,27.6 L62.4,25.9M58.5,31.0 L56.8,29.7 L54.9,28.9 L53.0,28.0M62.4,25.9 L60.9,25.1 L59.4,24.3 L57.8,23.9 L55.9,24.2 L54.4,23.3M54.4,23.3 L54.6,25.0 L53.5,26.4 L53.0,28.0M52.4,37.0 L54.0,36.0 L55.6,35.0 L56.9,33.5M52.4,37.0 L50.7,36.6 L49.4,35.6 L48.6,34.0M48.6,34.0 L49.8,32.1 L50.1,30.3 L49.0,28.3M58.5,31.0 L56.9,33.5M53.0,28.0 L51.0,27.2 L49.0,28.3M54.4,23.3 L54.2,21.5 L53.7,19.7M53.7,19.7 L51.8,19.5 L49.9,20.1 L48.0,20.3 L46.1,19.9 L44.3,19.5M49.0,28.3 L47.7,27.0 L46.6,25.5 L44.7,25.0M44.3,19.5 L44.2,21.4 L45.6,23.1 L44.7,25.0M74.6,83.7 L74.7,85.7 L74.2,87.4 L72.8,88.6 L71.7,89.9M74.6,83.7 L73.5,82.4 L72.3,81.4 L70.4,81.1 L69.4,79.7 L67.9,79.0M71.7,89.9 L69.9,89.9 L68.0,89.7 L66.2,90.8 L64.4,90.0M64.4,90.0 L64.8,88.3 L65.7,86.5 L66.1,84.8 L65.2,82.9 L65.5,81.1 L65.1,79.3M67.9,79.0 L65.1,79.3M78.7,73.4 L76.9,72.4 L75.2,71.3 L73.1,71.1M78.7,73.4 L77.6,75.2 L77.8,77.0 L77.2,78.8 L77.7,80.7 L77.3,82.5 L77.8,84.4M73.1,71.1 L71.9,72.5 L71.4,74.5 L70.9,76.5 L69.4,77.7 L67.9,79.0M77.8,84.4 L76.1,84.6 L74.6,83.7M75.2,96.4 L73.3,96.5 L71.5,97.4 L69.7,98.1 L67.8,98.2 L65.8,97.4M75.2,96.4 L75.2,95.2M62.6,89.1 L64.4,90.0M62.6,89.1 L62.3,91.7M75.2,95.2 L73.5,93.8 L72.2,92.1 L71.7,89.9M65.8,97.4 L64.8,96.0 L64.2,94.5 L63.2,93.2 L62.3,91.7M85.7,83.8 L87.0,85.3 L88.6,86.4 L90.7,87.0 L91.7,88.8M85.7,83.8 L83.7,84.9 L81.4,84.8M81.4,84.8 L80.6,86.3 L80.0,87.9 L79.3,89.4 L77.4,90.5 L78.3,92.6 L77.6,94.1 L77.6,95.9M91.7,88.8 L91.5,90.5 L89.8,91.9 L90.4,93.8 L90.5,95.6 L89.9,97.3M77.6,95.9 L79.4,95.6 L81.1,96.5 L83.0,95.6 L84.8,95.2 L86.5,96.6M86.5,96.6 L88.1,97.4 L89.9,97.3M79.3,71.8 L80.6,73.0 L81.9,74.2 L83.5,74.9 L85.4,75.0 L87.4,74.9 L88.3,76.8 L89.8,77.8M79.3,71.8 L78.7,73.4M89.8,77.8 L88.9,79.4 L88.4,81.3 L87.1,82.6 L85.7,83.8M77.8,84.4 L79.6,84.5 L81.4,84.8M75.2,95.2 L77.6,95.9M85.5,105.9 L85.3,104.0 L85.6,102.2 L85.3,100.3 L86.6,98.5 L86.5,96.6M85.5,105.9 L83.5,105.6 L81.8,106.5 L80.0,107.2M75.2,96.4 L75.5,98.0 L74.7,99.8 L74.6,101.5 L76.0,103.0 L76.4,104.6M80.0,107.2 L78.0,106.2 L76.4,104.6M88.9,111.3 L90.1,110.2 L91.3,109.1 L92.3,107.7 L94.2,107.7 L95.6,106.8 L96.8,105.7 L98.1,104.7 L99.7,104.1M88.9,111.3 L87.5,109.6 L86.7,107.7 L85.5,105.9M99.7,104.1 L97.8,103.0 L97.8,101.0 L97.3,99.2M97.3,99.2 L95.8,97.2 L93.9,97.1 L91.8,97.3 L89.9,97.3M79.3,71.8 L81.0,71.1 L82.0,69.6 L82.5,67.7 L83.8,66.6M73.1,71.1 L72.4,71.0M71.7,61.7 L71.6,63.6 L71.3,65.5 L72.0,67.3 L72.4,69.1 L72.4,71.0M71.7,61.7 L73.5,60.9 L75.9,61.7 L77.8,61.1 L79.3,59.2M83.8,66.6 L83.3,64.8 L82.9,63.1 L82.3,61.4 L80.6,60.4 L79.3,59.2M75.4,245.6 L74.6,243.9 L73.9,242.3 L73.3,240.5 L73.9,238.2 L71.2,237.5M64.0,251.1 L64.5,249.4 L64.4,247.8 L64.0,246.2 L63.6,244.6 L63.8,242.9M71.2,237.5 L69.8,238.8 L68.5,240.1 L66.8,240.9 L65.4,242.0 L63.8,242.9M50.5,248.8 L51.7,247.4 L52.6,245.8 L52.7,243.7 L53.2,242.0 L54.8,240.7 L55.1,238.8M63.8,242.9 L62.4,242.1 L60.9,241.6 L59.6,240.5 L57.9,240.4 L56.5,239.5 L55.1,238.8M87.9,236.2 L86.3,235.4 L84.6,235.2 L82.8,234.8 L81.1,234.6 L79.4,234.1 L78.0,232.7 L76.2,232.6 L74.7,231.8 L73.0,231.1M83.6,219.6 L84.2,219.0M84.2,219.0 L82.5,219.8 L80.6,219.7M80.6,219.7 L80.2,221.5 L78.9,222.7 L76.8,223.4 L75.9,224.8 L74.9,226.2 L74.2,227.8 L74.3,229.9 L73.0,231.1M71.2,237.5 L70.7,235.8 L70.9,233.9 L70.2,232.2M73.0,231.1 L70.2,232.2M40.7,247.6 L40.6,245.8 L40.5,244.1 L41.4,242.4 L41.2,240.7 L42.3,239.1 L40.9,237.2 L42.1,235.6 L42.1,233.8M55.1,238.8 L54.7,236.8 L53.6,234.9 L53.8,232.7M42.1,233.8 L43.7,233.0 L45.4,232.9 L47.0,232.2 L48.6,231.4 L50.2,230.2 L52.0,231.0 L53.8,232.7M65.9,227.0 L67.1,228.2 L67.8,229.8 L68.3,231.6 L70.2,232.2M65.9,227.0 L64.2,227.4 L62.7,228.2 L61.3,229.3 L59.9,230.2 L58.1,230.4 L56.7,231.3 L54.8,231.5 L53.5,232.6M53.8,232.7 L53.5,232.6M80.6,219.7 L78.8,219.7 L77.0,219.6 L75.3,219.5 L73.6,219.3 L71.9,218.7 L70.4,217.4M65.9,227.0 L66.1,225.3 L65.3,223.5 L66.4,221.9 L66.3,220.2M70.4,217.4 L69.3,218.6 L67.5,219.0 L66.3,220.2M116.8,186.5 L115.7,185.3 L114.0,184.7 L113.1,183.3 L112.5,181.7 L111.3,180.6M115.3,171.8 L114.2,173.1 L113.2,174.5 L112.0,175.7M111.3,180.6 L112.2,179.0 L113.0,177.5 L112.0,175.7M113.5,159.7 L112.3,160.5M121.3,153.3 L120.7,151.5 L119.9,149.8 L117.5,149.2 L116.8,147.5 L116.3,145.6M116.3,145.6 L114.9,146.7 L113.2,147.0 L111.7,147.9 L109.6,147.4 L108.3,148.8M108.3,148.8 L109.2,150.4 L110.1,151.9 L110.6,153.6 L111.4,155.2 L111.5,157.0 L111.9,158.8 L112.3,160.5M112.1,137.8 L113.5,136.7 L115.0,135.6 L115.8,133.8 L116.7,132.1 L118.8,131.7 L119.7,130.1 L121.1,128.9M112.1,137.8 L111.5,140.2 L111.8,142.3 L114.2,143.7M114.2,143.7 L116.0,144.0 L117.6,143.5 L118.9,142.0 L120.4,141.1 L122.2,141.3 L124.1,141.9 L125.8,142.0 L127.3,141.2 L129.0,140.9 L130.4,139.5M121.1,128.9 L122.3,130.1 L123.4,131.5 L124.0,133.3 L124.7,135.1 L126.0,136.3 L127.2,137.6 L128.5,138.8 L130.4,139.5M119.9,124.4 L120.1,126.7 L121.1,128.9M113.3,122.3 L111.8,123.4 L110.3,124.2 L109.1,125.7 L107.4,126.4 L105.9,127.4 L104.7,128.8M107.1,135.9 L105.9,134.3 L104.9,132.7 L104.7,130.8 L104.7,128.8M107.1,135.9 L108.7,136.7 L110.3,137.6 L112.1,137.8M132.1,138.8 L130.4,139.5M116.3,145.6 L114.2,143.7M58.5,8.9 L58.9,10.2M58.5,8.9 L56.9,7.5 L55.0,7.4M58.9,10.2 L59.3,12.1 L60.6,14.0 L59.6,16.1M53.0,9.4 L52.8,10.4 L51.5,11.7M51.5,11.7 L51.1,13.7 L52.8,15.5 L52.4,17.4 L52.1,19.4M52.1,19.4 L53.4,18.3 L55.5,18.9 L57.1,18.6 L58.5,17.7 L59.6,16.1M59.4,6.1 L59.4,7.3 L58.5,8.9M65.4,12.5 L63.8,11.9 L62.1,11.5 L60.2,11.5 L58.9,10.2M63.1,19.4 L61.2,18.0 L59.6,16.1M50.6,11.8 L51.5,11.7M62.4,25.9 L63.5,26.2M53.7,19.7 L52.1,19.4M78.7,35.1 L78.7,34.9M67.1,26.5 L67.6,28.0 L68.5,29.5 L67.8,31.2 L67.9,32.9 L68.4,34.4M78.7,34.9 L77.0,35.4 L75.3,35.0 L73.6,34.6 L71.8,35.2 L70.1,34.7 L68.4,34.4M51.8,41.9 L52.5,40.3 L53.3,38.8 L52.4,37.0M51.8,41.9 L52.3,41.3M48.6,34.0 L46.8,34.3M46.8,34.3 L46.5,36.1 L46.4,37.9 L46.1,39.7 L46.5,41.6M52.3,41.3 L50.4,42.3 L48.5,42.8 L46.5,41.6M46.8,34.3 L45.0,34.1 L44.6,34.3M46.5,41.6 L46.1,41.7M63.5,68.2 L63.8,66.4 L64.1,64.7 L64.4,62.9 L63.0,61.3M63.5,68.2 L65.2,69.0 L66.9,69.7 L68.7,70.4 L70.8,69.9 L72.4,71.0M71.7,61.7 L69.8,61.4 L68.4,60.4 L67.3,58.9M63.0,61.3 L64.9,61.4 L65.8,59.7 L67.3,58.9M44.3,19.5 L43.0,18.6M43.7,16.9 L43.0,18.6M102.9,51.7 L103.0,53.5 L102.5,55.1 L103.2,57.0 L102.7,58.6 L101.3,60.0 L99.9,61.3M87.9,48.6 L87.5,50.7 L88.1,52.7M88.1,52.7 L88.8,54.4 L90.2,55.5 L91.0,57.0 L92.3,58.2 L93.6,59.3 L94.5,60.8 L95.6,62.1M99.9,61.3 L97.9,62.4 L95.6,62.1M120.0,55.1 L119.5,53.1 L117.8,52.5 L116.0,52.1 L114.9,50.8M120.0,55.1 L120.6,56.7 L121.0,58.5 L123.3,59.4 L124.5,60.8 L124.5,62.7 L124.6,64.6 L124.4,66.7 L126.2,67.8M114.9,50.8 L114.9,52.6 L114.1,54.1 L113.7,55.8 L113.1,57.4 L112.5,58.9 L112.7,60.9 L112.2,62.5 L110.1,63.5M126.2,67.8 L124.1,67.8 L122.6,69.1 L120.7,69.7M120.7,69.7 L118.7,70.0 L116.6,70.8 L114.8,69.9 L113.2,68.3M110.1,63.5 L111.0,65.2 L111.6,67.1 L113.2,68.3M126.6,48.9 L125.5,50.4 L123.7,51.1 L122.5,52.5 L121.2,53.6 L120.0,55.1M109.9,47.3 L111.6,48.5 L112.9,50.1 L114.9,50.8M124.8,67.6 L126.2,67.8M99.9,61.3 L101.5,62.1 L103.3,62.4 L105.1,62.1 L106.9,62.1 L108.6,62.5 L110.1,63.5M131.8,84.3 L130.1,84.4 L128.4,84.4 L127.1,83.3 L125.2,84.1 L123.6,83.8 L122.2,82.7 L121.0,81.0 L119.4,80.9M119.4,80.9 L121.2,79.5 L121.3,77.9 L121.0,76.2 L120.8,74.6 L120.4,72.9 L121.4,71.4 L120.7,69.7M97.3,99.2 L98.4,97.8 L98.8,96.0 L99.0,94.2 L101.1,93.3 L101.4,91.5M91.7,88.8 L93.9,89.0 L95.3,87.4M95.3,87.4 L96.7,88.5 L98.3,89.4 L100.1,90.1 L101.4,91.5M108.6,99.0 L107.1,97.6 L106.7,95.9 L106.9,94.1 L106.8,92.4M124.4,98.9 L122.2,98.5 L121.7,96.6 L121.4,94.6 L119.9,93.6 L118.8,92.2 L117.3,91.2 L116.8,89.3 L115.6,88.1 L114.5,86.7M106.8,92.4 L108.8,91.9 L110.6,91.2 L112.1,89.9 L113.7,88.9 L114.5,86.7M101.8,104.8 L99.7,104.1M106.8,92.4 L105.0,92.2 L103.1,92.1 L101.4,91.5M119.4,80.9 L118.2,82.3 L117.0,83.8 L115.3,84.7 L113.8,85.7M114.5,86.7 L113.8,85.7M106.7,213.6 L105.0,213.0 L103.3,212.7 L101.9,211.7 L100.8,210.3 L99.4,209.5 L97.8,208.8 L96.6,207.6 L95.6,206.2M90.6,218.4 L91.2,216.8 L92.7,215.7 L93.2,214.0 L93.3,212.2 L93.3,210.3 L94.3,208.9 L95.2,207.5 L96.3,206.1M95.6,206.2 L96.3,206.1M108.1,194.8 L107.6,195.4M95.6,206.2 L96.7,205.0 L98.1,204.2 L98.9,202.7 L100.5,202.1 L101.3,200.6 L101.8,198.6 L103.3,197.9 L104.6,197.0 L106.4,196.6 L107.6,195.4M84.2,219.0 L83.6,217.2 L83.2,215.4 L82.4,213.7 L82.3,211.9 L81.4,210.2 L81.2,208.4M89.0,202.7 L90.3,203.5 L91.6,204.7 L93.2,205.1 L94.7,205.7 L96.3,206.1M89.0,202.7 L87.3,203.0 L85.6,202.2 L83.9,202.7M81.2,208.4 L82.8,206.8 L84.9,205.4 L83.9,202.7M70.4,217.4 L70.9,215.8 L71.2,214.2 L71.5,212.6 L71.7,211.0 L71.5,209.3 L71.8,207.7M81.2,208.4 L79.4,207.1 L77.5,207.3 L75.5,208.3 L73.6,209.0 L71.8,207.7M71.6,185.3 L70.9,185.1M71.6,185.3 L73.1,186.3 L74.3,187.5 L75.2,189.0 L75.5,190.8 L77.0,191.8 L78.1,193.2 L78.4,195.0M70.9,185.1 L72.6,184.4 L74.1,183.5 L75.4,182.1 L77.0,181.4 L78.6,180.7M78.4,195.0 L80.6,194.6M80.6,194.6 L81.7,193.0 L84.1,192.4 L84.3,190.0M84.3,190.0 L82.2,189.2 L81.3,187.6 L80.8,185.8 L80.5,183.8 L78.6,182.9 L78.6,180.7M86.7,46.0 L84.9,45.7 L83.1,45.2 L81.3,44.4 L79.5,44.0M78.7,34.9 L78.6,36.8 L77.8,38.5 L78.1,40.6 L76.1,41.8M79.5,44.0 L77.8,42.9 L76.1,41.8M88.1,52.7 L86.6,53.6 L85.5,55.1 L83.6,55.3 L82.2,56.5 L80.2,56.5 L78.9,57.7M78.9,57.7 L78.2,56.0 L77.4,54.4 L77.8,52.4 L78.3,50.4 L76.3,49.2M79.5,44.0 L78.5,45.7 L77.8,47.7 L76.3,49.2M56.9,33.5 L58.4,35.4 L60.6,36.2M68.4,34.4 L66.9,34.6M60.6,36.2 L62.2,35.9 L63.6,34.7 L65.4,35.4 L66.9,34.6M51.8,41.9 L53.8,41.1 L55.7,40.8 L57.5,41.4 L59.4,41.3 L61.2,42.4M60.6,36.2 L60.8,38.3 L59.9,40.5 L61.2,42.4M76.1,41.8 L74.1,41.1 L72.8,42.9 L71.1,43.6 L69.5,44.4 L67.6,43.6M66.9,34.6 L67.9,36.3 L67.0,38.2 L66.1,40.1 L66.4,41.9 L67.6,43.6M52.3,41.3 L51.9,43.0 L50.4,44.5 L50.7,46.4M50.7,46.4 L49.8,47.8 L49.3,49.3 L48.2,50.5M59.9,61.1 L58.3,60.4 L57.0,59.3 L56.3,57.4 L54.9,56.4 L53.0,56.2M59.9,61.1 L58.9,62.8 L56.5,62.6 L55.7,64.6 L54.4,65.8 L52.5,66.5M52.5,66.5 L52.2,66.3M50.9,60.5 L50.9,60.3 L51.9,58.8 L52.7,57.2M52.7,57.2 L53.0,56.2M50.7,46.4 L53.0,46.5 L54.3,47.8 L55.9,48.9 L57.0,50.8M49.5,55.4 L51.3,55.9 L52.7,57.2M57.0,50.8 L55.9,52.0 L55.1,53.5 L54.1,54.9 L53.0,56.2M52.5,66.5 L54.6,67.7 L55.4,69.4 L54.5,71.7M54.5,71.7 L53.8,73.3M63.5,68.2 L62.8,70.1 L61.4,71.6 L60.4,73.3 L59.3,74.9M63.0,61.3 L59.9,61.1M54.5,71.7 L56.1,72.7 L57.1,74.7 L59.3,74.9M65.1,79.3 L63.8,78.1 L62.4,77.1 L60.4,77.7M59.3,74.9 L60.4,77.7M62.6,89.1 L61.1,88.1 L60.0,86.8 L58.8,85.5 L57.8,84.0 L56.6,82.8M60.4,77.7 L58.8,79.1 L57.0,80.4 L56.6,82.8M52.3,97.5 L54.1,97.9 L55.9,97.3M55.8,94.4 L55.9,97.3M55.8,94.4 L54.4,93.0 L53.5,92.4M62.3,91.7 L60.4,91.6 L58.7,92.2 L57.1,93.1 L55.8,94.4M56.6,82.8 L55.6,84.8 L55.0,84.5M107.1,135.9 L105.6,137.2 L104.0,138.3 L102.2,139.1M104.7,128.8 L102.9,128.1 L101.7,126.3 L99.7,125.9 L97.9,125.0M102.2,139.1 L100.5,138.6 L99.2,136.9 L97.2,137.2 L95.6,136.1 L93.9,135.5 L92.0,135.7M92.0,135.7 L92.8,134.2 L93.2,132.4 L93.9,130.8 L95.3,129.6 L95.7,127.8 L97.1,126.6 L97.9,125.0M65.8,97.4 L66.0,99.3 L64.3,100.4 L63.5,101.9 L63.5,103.8 L62.4,105.2 L61.9,106.9M55.9,97.3 L56.0,99.3 L55.9,101.4 L57.4,102.8 L59.3,103.9M61.9,106.9 L60.6,105.3 L59.3,103.9M59.3,103.9 L57.4,104.0 L55.9,105.0 L54.2,105.5 L52.5,106.1 L51.1,107.4 L49.6,107.5M49.1,109.0 L50.3,109.2M49.4,107.9 L50.3,109.2M80.0,107.2 L78.6,108.9 L77.9,110.9 L77.1,112.8M76.4,104.6 L74.9,105.4 L73.3,106.2 L72.2,107.9 L70.4,108.2 L68.5,107.9M77.1,112.8 L74.6,111.4 L72.8,113.5M72.8,113.5 L71.8,112.1 L71.2,110.3 L70.6,108.5 L68.5,107.9M61.9,106.9 L64.6,107.9M68.5,107.9 L66.5,107.3 L64.6,107.9M98.1,80.2 L99.8,79.8 L101.3,79.2 L102.9,78.4 L104.5,78.1M98.1,80.2 L96.6,79.4 L94.9,79.0 L93.1,78.9 L91.4,78.6 L90.4,76.6M90.4,76.6 L89.7,74.7 L90.1,73.1 L92.5,72.2 L91.1,70.0 L91.6,68.5 L92.8,67.1 L93.9,65.8M105.4,75.8 L103.5,75.4 L103.5,73.2 L103.6,70.8 L101.3,70.8 L99.9,69.9 L99.2,68.4 L98.2,67.1 L96.2,66.7 L95.1,65.5M105.4,75.8 L104.5,78.1M93.9,65.8 L95.1,65.5M95.3,87.4 L95.6,85.4 L96.5,83.7 L97.7,82.1 L98.1,80.2M113.8,85.7 L112.3,84.8 L110.5,84.3 L109.7,82.6 L109.0,80.7 L107.9,79.3 L106.2,78.8 L104.5,78.1M89.8,77.8 L90.4,76.6M83.8,66.6 L85.5,66.2 L87.1,65.1 L88.8,65.6 L90.5,66.0 L92.2,65.3 L93.9,65.8M95.6,62.1 L95.1,63.8 L95.1,65.5M113.2,68.3 L111.7,69.4 L110.5,70.8 L109.5,72.3 L108.3,73.7 L107.1,75.0 L105.4,75.8M79.3,59.2 L78.9,57.7M104.5,181.9 L103.0,181.2 L101.6,180.0 L99.8,180.6 L98.0,181.0 L96.5,180.0M104.5,181.9 L105.0,183.8 L105.1,185.6 L104.0,187.4 L104.6,189.3 L104.2,191.1M104.2,191.1 L102.4,191.3 L100.7,191.6 L99.1,192.7 L97.3,192.9 L95.2,191.2 L93.7,192.6 L92.0,193.3M96.5,180.0 L95.0,181.7 L92.8,181.9M92.8,181.9 L92.5,183.9 L91.7,185.7 L90.3,187.2 L89.5,189.0M92.0,193.3 L90.4,192.3 L89.9,190.7 L89.5,189.0M111.3,180.6 L109.8,181.8 L108.1,182.4 L106.4,182.6 L104.5,181.9M107.6,195.4 L106.8,193.7 L106.3,191.8 L104.2,191.1M89.0,202.7 L90.9,201.6 L90.0,199.6 L89.8,197.7 L89.3,195.9 L90.4,194.5 L92.0,193.3M83.9,202.7 L82.4,201.4 L81.5,199.9 L81.2,198.1 L81.8,196.0 L80.6,194.6M84.3,190.0 L86.2,190.6 L88.0,190.7 L89.5,189.0M35.2,246.7 L34.8,245.0 L34.5,243.3 L33.0,242.3 L31.4,241.3 L31.3,239.5 L30.5,238.1M42.1,233.8 L40.9,233.6M30.5,238.1 L32.1,237.8 L33.5,236.9 L35.0,236.3 L36.6,235.9 L37.8,234.5 L39.7,234.7 L40.9,233.6M30.5,238.1 L28.7,237.6 L27.4,236.3 L25.9,235.3M40.9,233.6 L39.5,232.3 L39.1,230.7 L38.5,229.0 L38.4,227.2M38.4,227.2 L36.3,227.4 L34.4,227.1 L32.9,225.9 L30.9,225.9 L29.7,223.9M29.7,223.9 L28.6,225.4 L27.3,226.7 L27.1,228.5 L27.4,230.4 L26.7,231.9 L27.0,233.8 L25.9,235.3M20.3,241.7 L21.5,240.4 L23.4,239.5 L24.0,237.8 L24.3,235.8M11.2,228.4 L13.1,227.4 L14.7,225.8M14.7,225.8 L16.0,227.0 L16.2,229.2 L18.8,229.1 L19.3,231.0 L19.9,232.8 L20.9,234.3 L22.3,235.3 L24.3,235.8M24.3,235.8 L25.9,235.3M71.8,207.7 L70.4,206.7 L69.3,205.3 L67.9,204.2M78.4,195.0 L76.7,195.6 L75.4,197.0 L73.8,197.8 L71.8,197.8 L70.0,198.2 L68.8,199.8 L67.4,200.9M67.4,200.9 L66.8,202.7 L67.9,204.2M112.0,175.7 L110.5,174.5 L109.0,173.3 L107.5,172.1 L106.1,170.7 L104.1,170.2M112.3,160.5 L110.5,159.9 L108.8,160.1 L107.1,160.5 L105.3,159.6 L103.8,161.4M103.8,161.4 L105.4,163.1 L104.9,164.9 L104.2,166.7 L103.8,168.5 L104.1,170.2M96.5,180.0 L97.4,178.3 L98.1,176.6 L99.0,175.0 L98.2,172.9M98.2,172.9 L99.3,171.4 L101.1,171.4 L102.8,171.3 L104.1,170.2M91.7,148.0 L92.3,149.6 L91.8,151.4 L91.9,153.2 L92.9,154.8 L92.8,156.5 L93.3,158.2M91.7,148.0 L93.1,146.6 L94.5,145.3 L96.2,144.6 L98.6,144.9 L99.9,143.5 L101.2,142.1M101.2,142.1 L102.1,143.9 L103.4,145.6 L103.1,147.7 L103.1,149.7M103.1,149.7 L101.9,150.9 L101.2,152.4 L100.6,154.0 L99.3,155.1 L98.9,156.8 L98.6,158.4M98.6,158.4 L96.8,158.6 L95.0,158.6 L93.3,158.2M102.2,139.1 L101.2,142.1M86.1,143.9 L87.1,145.5 L88.8,146.1 L90.0,147.4 L91.7,148.0M86.1,143.9 L87.8,142.6 L88.2,140.8 L88.8,139.1 L89.2,137.2 L88.7,135.1 L90.2,133.7M90.2,133.7 L92.0,135.7M108.3,148.8 L106.7,150.2 L104.9,149.9 L103.1,149.7M103.8,161.4 L102.1,160.3 L100.1,159.8 L98.6,158.4M98.2,172.9 L97.2,171.3 L96.0,170.0 L93.9,169.7 L92.5,168.7 L91.5,167.1 L89.9,166.3M93.3,158.2 L94.0,157.5M89.9,166.3 L90.8,164.9 L90.7,163.1 L92.1,161.9 L91.8,160.0 L92.4,158.5 L94.0,157.5M86.1,143.9 L85.7,143.0M90.2,133.7 L88.7,132.6 L87.0,131.8 L85.8,130.2 L84.1,129.3M78.5,134.0 L80.2,133.2 L81.5,131.9 L82.8,130.7 L84.1,129.3M78.5,134.0 L78.9,135.9M78.9,135.9 L79.7,137.4 L81.8,137.7 L81.9,139.8 L82.6,141.4 L84.3,142.0 L85.7,143.0M8.4,200.9 L8.7,199.1 L8.7,199.0M62.5,45.2 L64.5,45.5 L66.3,44.5M62.5,45.2 L60.4,46.5 L59.9,48.4 L60.3,50.6M66.3,44.5 L67.5,45.7 L69.1,46.7 L69.9,48.1 L69.2,50.2M60.3,50.6 L62.0,51.5 L63.8,52.3 L65.1,53.7 L66.6,54.8M66.6,54.8 L68.4,53.8 L69.3,52.3 L69.2,50.2M61.2,42.4 L62.5,45.2M67.6,43.6 L66.3,44.5M57.0,50.8 L58.6,50.0 L60.3,50.6M76.3,49.2 L74.5,49.5 L72.8,50.1 L71.2,51.3 L69.2,50.2M67.3,58.9 L66.0,57.0 L66.6,54.8M43.0,18.6 L42.9,18.7M88.0,122.8 L89.8,122.7 L91.6,122.4 L93.5,123.6 L95.3,122.9 L97.1,122.8M88.0,122.8 L87.8,121.2 L88.5,119.5 L88.6,117.9 L88.8,116.2 L87.5,114.6M87.8,109.5 L89.1,110.6 L90.3,111.7 L91.9,112.4 L94.2,112.1 L95.4,113.3 L96.5,114.6 L97.6,116.0 L98.8,117.2 L99.9,118.5M87.8,109.5 L87.6,111.2 L86.5,112.8 L87.5,114.6M99.9,118.5 L99.5,120.3 L98.3,121.5 L97.1,122.8M97.9,125.0 L97.1,122.8M84.1,129.3 L82.8,127.7 L83.6,125.8M83.6,125.8 L85.0,124.7 L86.8,124.2 L88.0,122.8M79.1,116.9 L79.4,119.1 L78.7,121.1M79.1,116.9 L81.0,117.3 L82.6,116.5 L84.1,115.6 L86.0,115.9 L87.5,114.6M78.7,121.1 L79.4,122.8 L80.9,123.7 L82.2,124.8 L83.6,125.8M106.2,113.8 L104.5,114.8 L102.4,115.3 L101.3,117.1 L99.9,118.5M88.9,111.3 L87.8,109.5M77.1,112.8 L78.6,114.7 L79.1,116.9M50.3,109.2 L51.6,112.0M62.1,113.5 L61.5,111.0 L62.2,109.1 L64.6,107.9M62.1,113.5 L60.6,115.0 L59.1,116.5M51.6,112.0 L53.3,112.6 L54.5,114.0 L56.5,114.1 L58.0,114.9 L59.1,116.5M51.6,112.0 L50.0,112.6 L49.7,114.7 L48.4,115.7 L47.1,116.4M71.6,185.3 L69.2,185.1 L66.9,184.5M67.4,200.9 L67.0,199.3 L67.0,197.7 L67.0,196.1M66.9,184.5 L66.0,186.1 L66.1,187.8 L66.1,189.5 L67.1,191.1 L67.6,192.8 L67.1,194.4 L67.0,196.1M94.0,157.5 L92.3,157.6 L90.8,155.8 L89.1,156.3 L87.4,156.6 L85.7,157.0 L84.1,156.0 L82.4,156.2M85.7,143.0 L84.6,144.3 L83.9,145.7 L82.9,147.1 L81.4,148.0 L80.8,149.6M82.4,156.2 L82.6,154.4 L81.5,152.9 L80.8,151.3 L80.8,149.6M78.9,135.9 L78.1,137.5 L75.8,137.5 L74.8,138.9 L73.3,139.7 L72.4,141.1 L71.2,142.3 L70.4,143.9M70.4,143.9 L69.3,146.2 L69.9,148.2 L72.0,149.7M80.8,149.6 L79.0,150.3 L77.3,150.4 L75.5,150.4 L73.7,149.8 L72.0,149.7M64.2,161.9 L64.2,160.2 L63.7,158.4 L63.6,156.6 L64.6,155.0 L65.0,153.4 L65.8,151.7M64.2,161.9 L66.1,162.3 L68.1,162.3 L70.0,162.8M65.8,151.7 L68.0,151.0 L70.3,150.3M70.3,150.3 L70.4,152.1 L71.0,153.7 L72.1,155.0 L73.0,156.5 L74.1,157.8M70.0,162.8 L70.5,161.1 L71.8,160.0 L72.3,158.4 L74.1,157.8M82.4,156.2 L82.0,158.0 L80.8,159.3M70.3,150.3 L72.0,149.7M74.1,157.8 L76.0,157.0 L77.5,158.2 L79.2,158.5 L80.8,159.3M70.9,185.1 L71.4,183.1 L71.1,181.3 L70.1,179.7 L68.9,178.1 L68.4,176.3 L68.1,174.5M68.1,174.5 L66.1,174.9M59.2,185.0 L61.2,186.3 L63.1,185.6 L65.0,184.7 L66.9,184.5M59.2,185.0 L59.0,183.0 L59.8,181.3 L60.8,179.7M66.1,174.9 L64.9,176.2 L62.7,176.4 L61.8,178.1 L60.8,179.7M50.5,181.6 L50.5,180.7M50.5,181.6 L51.3,179.8 L52.7,178.6 L53.7,177.0 L55.6,176.3M50.5,180.7 L52.3,181.3 L53.9,182.3 L55.7,183.0 L57.0,184.3 L58.0,186.1M59.2,185.0 L58.0,186.1M60.8,179.7 L58.8,178.9 L57.3,177.4 L55.6,176.3M43.6,176.6 L41.7,177.0 L40.1,178.1M43.6,176.6 L42.9,175.0 L41.6,173.7 L42.0,171.8 L41.1,170.4 L40.9,168.7M40.1,178.1 L38.4,177.5 L36.7,176.9 L35.0,176.5 L33.2,176.5M33.2,176.5 L33.8,174.9 L34.4,173.2 L34.3,171.4M34.3,171.4 L36.0,170.7 L37.3,169.5 L38.9,168.5 L40.9,168.7M43.6,176.6 L46.3,178.1M46.3,178.1 L45.9,176.1 L47.7,174.9 L48.7,173.4 L49.7,171.9 L50.1,170.2 L49.4,168.1M49.4,168.1 L47.4,168.4 L46.1,167.1 L44.9,165.4 L43.0,165.5M40.9,168.7 L42.0,167.1 L43.0,165.5M40.3,140.1 L41.5,140.9M41.5,140.3 L41.5,140.9M41.5,140.3 L40.3,140.2M44.7,25.0 L43.2,25.9 L42.9,26.0M65.0,118.5 L67.2,118.2 L69.5,118.0M65.0,118.5 L65.2,120.7 L64.7,122.7 L64.0,124.7M64.0,124.7 L65.7,123.8 L67.3,123.7 L69.0,124.7 L70.7,125.3 L72.4,124.8M69.5,118.0 L71.1,118.9 L72.2,120.4 L72.7,122.8 L75.2,122.5M75.2,122.5 L73.4,123.2 L72.4,124.8M72.8,113.5 L72.1,115.4 L71.0,116.8 L69.5,118.0M62.1,113.5 L62.6,115.4 L64.1,116.8 L65.0,118.5M78.7,121.1 L77.0,121.9 L75.2,122.5M78.5,134.0 L76.7,133.4 L75.2,132.2M75.2,132.2 L74.8,130.2 L74.0,128.4 L73.9,126.3 L72.4,124.8M75.2,132.2 L73.2,131.9 L71.2,132.3 L69.3,132.7 L67.5,133.8M64.0,124.7 L65.0,126.8M65.0,126.8 L66.4,128.2 L66.5,130.2 L66.6,132.1 L67.5,133.8M59.1,116.5 L57.7,117.7 L57.3,119.5M65.0,126.8 L63.3,126.7 L61.6,125.8 L59.9,126.4M57.3,119.5 L58.4,121.1 L59.6,122.6 L60.2,124.3 L59.9,126.4M48.8,137.8 L51.2,136.9M48.8,137.8 L47.3,139.3 L45.5,140.2 L43.5,140.6 L41.5,140.9M41.5,140.3 L41.6,142.1 L41.6,143.9 L42.4,145.7 L43.7,147.4 L43.2,149.2 L41.9,151.1M41.9,151.1 L43.1,149.5 L44.6,148.6 L46.7,149.7 L48.3,149.6 L49.8,148.6 L51.1,147.3 L53.0,147.7M53.0,147.7 L53.7,145.8 L53.3,144.0 L53.0,142.2 L52.7,140.3 L51.6,138.7 L51.2,136.9M88.1,167.6 L86.4,167.3 L84.6,167.1 L82.9,166.9 L81.3,166.4 L80.0,164.9M88.1,167.6 L87.1,169.5 L85.9,171.2 L86.0,173.3 L86.5,175.4M80.0,164.9 L78.8,166.5 L77.3,167.7 L75.8,169.0M75.8,169.0 L76.6,170.6 L77.3,172.2 L78.7,173.5 L79.3,175.2 L79.3,177.2 L80.7,178.4M86.5,175.4 L85.0,176.1 L83.9,177.5 L82.7,178.7 L80.7,178.4M89.9,166.3 L88.1,167.6M80.8,159.3 L81.1,161.3 L80.4,163.1 L80.0,164.9M92.8,181.9 L91.7,180.5 L90.3,179.3 L88.7,178.3 L88.1,176.4 L86.5,175.4M70.0,162.8 L69.8,164.6 L70.7,166.0 L71.1,167.6 L72.5,168.7M72.5,168.7 L74.2,168.8 L75.8,169.0M78.6,180.7 L80.7,178.4M68.1,174.5 L68.3,172.4 L69.8,171.2 L71.5,170.3 L72.5,168.7M58.0,186.1 L57.8,188.1 L55.6,189.4 L55.5,191.5 L55.1,193.4M67.0,196.1 L65.4,194.4 L63.5,194.7 L61.6,194.7 L59.8,194.4 L58.0,193.6 L56.1,194.2M55.1,193.4 L56.1,194.2M10.0,205.9 L10.9,206.6 L12.6,207.4 L14.4,207.2 L16.1,207.7M16.1,207.7 L16.3,205.9 L16.5,204.2 L17.0,202.5 L16.5,200.7M11.6,196.7 L13.1,196.9 L14.3,198.1 L15.4,199.4 L16.5,200.7M6.7,217.0 L7.9,217.6 L9.6,217.2 L11.3,217.5 L13.0,217.2 L14.7,217.1M16.1,207.7 L17.5,207.8M17.5,207.8 L17.5,209.5 L16.2,210.8 L16.4,212.6 L15.3,213.9 L15.6,215.7 L14.7,217.1M14.7,225.8 L16.8,225.3 L16.9,223.1M14.7,217.1 L14.6,219.4 L16.8,220.9 L16.9,223.1M29.7,223.9 L29.2,220.8M16.9,223.1 L18.5,221.8 L20.3,221.8 L22.1,222.0 L23.8,221.0 L25.6,221.1 L27.5,221.4 L29.2,220.8M61.4,169.6 L59.3,169.8 L57.6,170.6 L56.3,172.2M61.4,169.6 L61.0,167.7 L61.5,165.9 L61.3,164.1 L62.0,162.2 L61.5,160.4M61.5,160.4 L59.9,161.4 L58.3,161.6 L56.7,161.3 L55.0,160.5M55.0,160.5 L53.6,161.9 L52.5,163.5 L51.3,165.0 L51.0,167.0 L50.9,169.0M50.9,169.0 L52.2,171.0 L54.3,171.5 L56.3,172.2M66.1,174.9 L65.6,173.0 L64.1,172.0 L63.0,170.6 L61.4,169.6M55.6,176.3 L56.7,174.4 L56.3,172.2M64.2,161.9 L61.5,160.4M65.8,151.7 L64.0,151.2 L62.3,150.7 L61.1,149.1 L59.5,148.4M54.7,160.2 L54.1,158.6 L53.0,156.9 L51.8,155.3 L52.0,153.5 L51.9,151.8 L53.4,149.8 L53.3,148.1M54.7,160.2 L55.0,160.5M59.5,148.4 L57.4,149.9 L55.3,149.6 L53.3,148.1M46.3,178.1 L48.0,178.8 L49.8,179.5 L50.5,181.6M49.4,168.1 L50.9,169.0M33.0,176.0 L33.2,176.5M33.0,176.0 L30.9,176.2 L29.8,176.3M34.3,171.4 L33.4,169.9 L33.1,168.2 L33.0,168.0M47.6,120.9 L46.1,121.9 L45.0,123.4 L45.0,123.4M47.6,120.9 L50.2,121.8M50.2,121.8 L50.6,123.9 L49.5,126.0 L50.7,128.0M50.7,128.0 L49.0,128.3 L47.4,128.8 L46.4,130.3M46.4,130.3 L44.8,128.8 L43.3,128.4M47.0,116.8 L47.8,118.6 L47.6,120.9M57.3,119.5 L55.8,120.8 L53.7,120.6 L51.9,120.9 L50.2,121.8M59.9,126.4 L59.3,128.1 L57.7,129.0 L56.9,130.5M56.9,130.5 L55.5,129.3 L54.0,128.8 L52.5,128.1 L50.7,128.0M48.8,137.8 L48.6,135.8 L48.6,133.7 L48.3,131.8 L46.4,130.3M56.9,130.5 L57.1,133.0 L59.0,134.6M51.2,136.9 L52.8,136.7 L54.4,136.3 L55.9,135.7 L57.8,136.4 L59.0,134.6M60.1,144.7 L59.7,143.1 L58.6,141.7 L58.3,140.1 L58.6,138.3 L57.8,136.8 L57.1,135.4M60.1,144.7 L62.0,144.8 L63.5,144.0 L65.2,143.5 L66.8,143.0 L68.3,141.9M57.1,135.4 L58.7,136.1 L60.4,136.4 L62.1,136.5 L63.8,136.3 L65.5,136.5 L67.2,135.7M68.3,141.9 L67.4,139.9 L67.5,137.8 L67.2,135.7M59.5,148.4 L59.4,146.5 L60.1,144.7M53.3,148.1 L53.0,147.7M59.0,134.6 L57.1,135.4M70.4,143.9 L68.3,141.9M67.5,133.8 L67.2,135.7M55.1,193.4 L53.3,193.3 L51.6,193.3 L49.9,192.8 L48.1,193.0 L46.4,192.8 L44.6,193.5M56.1,194.2 L54.0,195.7 L54.3,197.4 L54.6,199.0 L55.1,200.8 L55.5,202.5 L55.8,204.1 L55.2,205.8M44.6,193.5 L44.8,195.7 L45.3,197.8M45.3,197.8 L46.6,199.3 L47.7,200.8 L48.6,202.5 L48.7,204.4 L49.4,206.2M49.4,206.2 L51.3,206.7 L53.3,206.5 L55.2,205.8M66.3,220.2 L64.7,219.3 L63.0,218.8 L61.1,218.5 L59.8,217.0M67.9,204.2 L66.3,204.7 L64.8,205.6 L63.0,205.6 L61.5,206.4 L59.8,206.5 L58.5,207.8M59.8,217.0 L59.8,215.1 L60.2,213.2 L59.8,211.4 L58.8,209.7 L58.5,207.8M53.5,232.6 L51.7,231.4 L51.0,229.8 L52.3,227.5 L51.0,226.1 L49.9,224.6 L49.9,222.8 L49.4,221.1M59.8,217.0 L58.3,217.4 L56.8,218.0 L55.3,218.7 L53.6,218.7 L52.1,219.2 L51.1,221.0 L49.4,221.1M58.5,207.8 L56.8,206.8 L55.2,205.8M40.1,178.1 L39.8,180.1 L39.9,182.3 L38.7,184.1M33.0,176.0 L34.1,177.6 L34.5,179.2 L34.4,180.8 L34.5,182.4 L33.4,184.1M33.4,184.1 L35.1,184.7 L36.9,184.3 L38.7,184.1M50.5,180.7 L49.9,182.5 L48.8,183.8 L47.8,185.2 L46.2,186.0 L45.3,187.5 L43.6,188.3M38.7,184.1 L39.3,185.9 L40.7,186.6 L42.2,187.4 L43.6,188.3M44.6,193.5 L44.1,192.2M43.6,188.3 L43.6,190.3 L44.1,192.2M17.5,207.8 L19.3,208.0 L21.0,208.7 L22.8,209.1 L24.5,209.8M29.2,220.8 L28.6,218.8 L30.0,217.5 L30.9,216.0M24.5,209.8 L25.9,210.9 L27.5,211.8 L29.6,212.2 L30.9,213.4 L30.9,216.0M43.4,151.0 L42.6,153.0 L42.6,154.8 L43.1,156.7 L44.4,158.4M43.4,151.0 L41.9,151.6 L40.3,152.4 L38.7,152.8 L38.7,152.8M37.3,156.4 L37.7,156.6 L38.7,158.0 L40.1,159.1 L39.4,161.9M44.4,158.4 L43.6,160.3 L42.6,162.2 L40.6,163.2M40.6,163.2 L39.4,161.9M41.9,151.1 L43.4,151.0M54.7,160.2 L52.9,160.6 L51.1,160.4 L49.4,160.0 L47.8,159.4 L45.9,160.1 L44.4,158.4M43.0,165.5 L42.0,164.1 L40.6,163.2M35.4,161.6 L37.4,161.8 L39.4,161.9M47.7,209.6 L46.7,211.7 L47.1,213.4 L47.5,215.1 L48.6,216.7 L48.6,218.5 L50.1,219.9M47.7,209.6 L46.1,209.7 L44.4,210.1 L42.8,210.3 L41.1,210.3 L39.5,210.5 L37.8,209.9M37.6,214.8 L37.8,213.2 L38.5,211.6 L37.8,209.9M37.6,214.8 L38.9,216.1 L39.9,217.5 L41.3,218.7 L43.2,219.5 L43.0,221.8M43.0,221.8 L44.8,221.5 L46.7,221.4 L48.3,220.5 L50.1,219.9M49.4,206.2 L48.2,207.7 L47.7,209.6M49.4,221.1 L50.1,219.9M45.3,197.8 L44.0,198.7 L42.3,198.9 L40.8,199.4 L39.6,200.7 L38.5,202.1 L36.6,201.7M36.6,201.7 L35.5,204.1M35.5,204.1 L36.2,206.0 L36.8,208.0 L37.8,209.9M27.6,207.3 L25.9,208.3 L24.5,209.8M27.6,207.3 L29.2,206.6 L30.5,205.3 L31.7,203.8 L33.2,203.1 L35.5,204.1M30.9,216.0 L32.7,216.6 L34.4,216.1 L35.7,214.1 L37.6,214.8M38.4,227.2 L39.4,225.8 L40.7,224.6 L42.9,224.1 L43.0,221.8M30.8,185.5 L31.0,187.2 L30.9,189.1 L31.2,190.9 L34.1,191.1M30.8,185.5 L28.9,184.3 L27.2,185.2 L25.7,185.5M30.7,193.5 L32.6,192.6 L34.1,191.1M30.7,193.5 L29.1,193.9 L27.3,193.7 L25.8,194.3 L24.4,195.0 L23.3,196.5M23.1,187.7 L23.3,188.8 L23.0,190.5 L22.0,191.9 L20.7,193.1M23.3,196.5 L20.4,195.6M20.7,193.1 L20.4,195.6M33.4,184.1 L30.8,185.5M44.1,192.2 L42.4,192.0 L40.8,191.2 L39.1,191.9 L37.3,192.7 L35.6,192.8 L34.1,191.1M36.6,201.7 L35.9,200.1 L34.8,198.9 L33.9,197.4 L33.2,195.9 L30.9,195.4 L30.7,193.5M27.6,207.3 L27.7,205.4 L26.5,204.2 L26.2,202.5 L25.9,200.8 L25.1,199.4 L24.4,197.9 L23.3,196.5M18.6,191.4 L19.5,191.4 L20.7,193.1M16.5,200.7 L17.4,198.7 L18.9,197.2 L20.4,195.6" fill="none" stroke="#6c6c6c" stroke-width="0.6" stroke-linejoin="round"/>
<polygon points="111.6,37.1 114.2,38.0 112.5,42.0 113.5,44.7 112.0,47.0 112.0,50.4 116.0,52.4 119.9,55.0 119.9,60.0 118.6,63.2 115.4,65.7 112.9,67.6 111.0,67.0 110.4,63.2 106.5,63.2 102.7,62.5 102.1,59.4 106.0,58.0 108.5,57.0 109.0,52.0 106.0,50.5 102.5,49.0 102.7,46.6 106.5,42.8 109.0,40.5" fill="url(#vt)"/>
<polygon points="142.6,145.6 142.6,134.9 144.9,133.4 151.0,132.9 152.3,130.3 153.3,132.9 158.7,132.9 161.7,134.9 159.4,137.2 159.4,144.8 150.0,145.5" fill="url(#hz)"/>
<polygon points="113.7,159.3 115.2,154.8 116.7,150.2 120.5,147.9 126.6,148.7 129.7,151.7 132.7,153.2 135.8,152.5 137.3,151.7 139.6,148.7 141.9,147.1 142.6,145.6 150.0,145.5 159.4,144.8 164.8,147.1 167.1,150.9 167.8,155.5 165.5,160.1 163.2,163.9 161.7,169.3 160.2,173.8 155.6,176.1 149.5,176.9 144.9,177.6 141.9,179.2 135.8,178.4 131.5,185.1 137.7,188.7 140.4,194.0 141.3,199.4 143.1,203.0 144.9,206.5 144.9,210.1 139.5,211.9 132.4,211.9 127.0,212.8 123.5,213.7 116.3,215.4 114.6,214.5 111.0,210.1 110.1,204.7 109.2,202.1 111.9,198.5 111.0,194.9 108.3,191.4 107.4,186.9 106.5,180.0 113.0,175.0 113.7,165.0" fill="url(#grid)"/>
<polygon points="106.7,162.2 110.0,161.5 113.3,161.5 113.5,170.5 129.6,170.5 130.0,176.0 129.7,178.0 128.5,182.5 120.0,182.5 110.0,182.5 101.6,180.6 98.4,176.0 95.9,171.7 99.2,169.3 102.2,167.0" fill="url(#hz)"/>
<polygon points="96.7,199.4 101.2,199.4 105.7,200.3 109.2,202.1 110.1,204.7 111.0,210.1 114.6,214.5 111.9,216.3 114.6,221.7 113.7,223.5 105.7,224.3 98.5,227.0 95.0,228.8 91.4,225.2 87.8,223.5 84.3,225.2 80.7,222.6 77.1,219.0 75.3,216.3 78.9,213.7 84.3,209.2 89.6,205.6 93.2,202.1" fill="url(#hz)"/>
<polygon points="92.3,217.2 96.7,216.3 102.1,213.7 105.7,211.0 109.2,213.7 112.8,217.2 113.7,221.7 108.3,222.6 105.7,224.7 100.3,227.0 96.7,229.7 93.2,227.0 91.4,222.6" fill="url(#grid)"/>
<polygon points="125.3,214.5 131.5,212.8 137.7,212.8 144.9,211.0 150.2,211.9 152.0,215.4 154.7,218.1 159.1,216.3 161.8,218.1 163.6,221.7 162.7,226.1 160.0,230.6 157.3,234.1 153.8,236.8 148.4,238.6 143.1,237.7 137.7,235.0 134.2,231.5 131.5,227.9 128.8,224.3 127.0,220.8" fill="url(#hz)"/>
<polygon points="137.0,212.7 141.0,211.8 147.2,211.3 151.0,215.3 152.5,219.0 152.3,222.9 148.5,224.2 144.7,220.4 139.6,219.1 137.0,215.3" fill="#cfcfcf" stroke="#999" stroke-width="0.4"/>
<polygon points="132.4,244.0 137.7,239.5 143.1,237.7 148.4,238.6 145.4,243.4 144.5,251.4 142.8,258.5 141.9,263.9 147.2,271.0 150.5,276.0 153.5,279.9 154.6,284.8 148.0,283.0 140.0,281.0 133.0,280.0 128.0,278.2 124.8,273.2 122.4,268.2 124.8,263.3 126.7,258.5 128.5,251.4 131.2,246.0" fill="#cfcfcf" stroke="#999" stroke-width="0.4"/>
<polygon points="99.0,276.7 105.0,275.7 109.9,278.2 114.9,279.8 119.9,284.8 119.9,286.5 119.9,309.6 119.3,310.2 114.5,307.8 107.3,309.0 100.1,309.0 94.2,306.7 93.0,298.3 94.2,291.1 96.6,286.3" fill="url(#hz)"/>
<polygon points="119.9,286.5 129.0,284.8 133.1,279.8 135.6,276.5 139.7,274.5 143.9,274.9 148.0,277.4 150.5,282.3 153.0,285.6 157.1,284.8 161.3,283.1 163.7,281.5 166.2,281.5 165.4,284.8 163.7,288.1 162.1,291.4 157.9,294.7 154.6,294.7 151.3,296.4 148.0,298.9 146.4,303.0 144.7,306.3 142.2,309.6 139.7,311.3 136.4,313.0 131.5,313.8 126.5,313.8 121.5,313.8 119.9,309.6" fill="url(#hz)"/>
<clipPath id="bjc"><rect x="110" y="260" width="40.5" height="70"/></clipPath>
<polygon points="119.9,286.5 129.0,284.8 133.1,279.8 135.6,276.5 139.7,274.5 143.9,274.9 148.0,277.4 150.5,282.3 153.0,285.6 157.1,284.8 161.3,283.1 163.7,281.5 166.2,281.5 165.4,284.8 163.7,288.1 162.1,291.4 157.9,294.7 154.6,294.7 151.3,296.4 148.0,298.9 146.4,303.0 144.7,306.3 142.2,309.6 139.7,311.3 136.4,313.0 131.5,313.8 126.5,313.8 121.5,313.8 119.9,309.6" fill="url(#grid)" clip-path="url(#bjc)"/>
<polygon points="83.4,313.8 91.8,310.2 99.0,311.4 104.9,315.0 104.9,322.2 101.3,325.8 96.6,327.0 91.8,324.6 87.0,321.0 83.4,317.4" fill="url(#hz)"/>
<polygon points="44.8,310.5 49.4,311.3 54.0,313.6 58.6,312.0 61.6,308.2 67.7,307.5 70.8,307.5 70.8,315.1 73.9,318.2 75.4,324.3 73.9,328.9 72.3,331.9 75.4,336.5 70.8,338.8 44.8,338.8 44.5,325.8 44.8,316.6" fill="url(#hz)"/>
<clipPath id="redc"><polygon points="111.6,37.1 114.2,38.0 112.5,42.0 113.5,44.7 112.0,47.0 112.0,50.4 116.0,52.4 119.9,55.0 119.9,60.0 118.6,63.2 115.4,65.7 112.9,67.6 111.0,67.0 110.4,63.2 106.5,63.2 102.7,62.5 102.1,59.4 106.0,58.0 108.5,57.0 109.0,52.0 106.0,50.5 102.5,49.0 102.7,46.6 106.5,42.8 109.0,40.5"/><polygon points="142.6,145.6 142.6,134.9 144.9,133.4 151.0,132.9 152.3,130.3 153.3,132.9 158.7,132.9 161.7,134.9 159.4,137.2 159.4,144.8 150.0,145.5"/><polygon points="106.7,162.2 110.0,161.5 113.3,161.5 113.5,170.5 129.6,170.5 130.0,176.0 129.7,178.0 128.5,182.5 120.0,182.5 110.0,182.5 101.6,180.6 98.4,176.0 95.9,171.7 99.2,169.3 102.2,167.0"/><polygon points="113.7,159.3 115.2,154.8 116.7,150.2 120.5,147.9 126.6,148.7 129.7,151.7 132.7,153.2 135.8,152.5 137.3,151.7 139.6,148.7 141.9,147.1 142.6,145.6 150.0,145.5 159.4,144.8 164.8,147.1 167.1,150.9 167.8,155.5 165.5,160.1 163.2,163.9 161.7,169.3 160.2,173.8 155.6,176.1 149.5,176.9 144.9,177.6 141.9,179.2 135.8,178.4 131.5,185.1 137.7,188.7 140.4,194.0 141.3,199.4 143.1,203.0 144.9,206.5 144.9,210.1 139.5,211.9 132.4,211.9 127.0,212.8 123.5,213.7 116.3,215.4 114.6,214.5 111.0,210.1 110.1,204.7 109.2,202.1 111.9,198.5 111.0,194.9 108.3,191.4 107.4,186.9 106.5,180.0 113.0,175.0 113.7,165.0"/><polygon points="96.7,199.4 101.2,199.4 105.7,200.3 109.2,202.1 110.1,204.7 111.0,210.1 114.6,214.5 111.9,216.3 114.6,221.7 113.7,223.5 105.7,224.3 98.5,227.0 95.0,228.8 91.4,225.2 87.8,223.5 84.3,225.2 80.7,222.6 77.1,219.0 75.3,216.3 78.9,213.7 84.3,209.2 89.6,205.6 93.2,202.1"/><polygon points="125.3,214.5 131.5,212.8 137.7,212.8 144.9,211.0 150.2,211.9 152.0,215.4 154.7,218.1 159.1,216.3 161.8,218.1 163.6,221.7 162.7,226.1 160.0,230.6 157.3,234.1 153.8,236.8 148.4,238.6 143.1,237.7 137.7,235.0 134.2,231.5 131.5,227.9 128.8,224.3 127.0,220.8"/><polygon points="99.0,276.7 105.0,275.7 109.9,278.2 114.9,279.8 119.9,284.8 119.9,286.5 119.9,309.6 119.3,310.2 114.5,307.8 107.3,309.0 100.1,309.0 94.2,306.7 93.0,298.3 94.2,291.1 96.6,286.3"/><polygon points="119.9,286.5 129.0,284.8 133.1,279.8 135.6,276.5 139.7,274.5 143.9,274.9 148.0,277.4 150.5,282.3 153.0,285.6 157.1,284.8 161.3,283.1 163.7,281.5 166.2,281.5 165.4,284.8 163.7,288.1 162.1,291.4 157.9,294.7 154.6,294.7 151.3,296.4 148.0,298.9 146.4,303.0 144.7,306.3 142.2,309.6 139.7,311.3 136.4,313.0 131.5,313.8 126.5,313.8 121.5,313.8 119.9,309.6"/><polygon points="83.4,313.8 91.8,310.2 99.0,311.4 104.9,315.0 104.9,322.2 101.3,325.8 96.6,327.0 91.8,324.6 87.0,321.0 83.4,317.4"/><polygon points="44.8,310.5 49.4,311.3 54.0,313.6 58.6,312.0 61.6,308.2 67.7,307.5 70.8,307.5 70.8,315.1 73.9,318.2 75.4,324.3 73.9,328.9 72.3,331.9 75.4,336.5 70.8,338.8 44.8,338.8 44.5,325.8 44.8,316.6"/><polygon points="137.0,212.7 141.0,211.8 147.2,211.3 151.0,215.3 152.5,219.0 152.3,222.9 148.5,224.2 144.7,220.4 139.6,219.1 137.0,215.3"/><polygon points="132.4,244.0 137.7,239.5 143.1,237.7 148.4,238.6 145.4,243.4 144.5,251.4 142.8,258.5 141.9,263.9 147.2,271.0 150.5,276.0 153.5,279.9 154.6,284.8 148.0,283.0 140.0,281.0 133.0,280.0 128.0,278.2 124.8,273.2 122.4,268.2 124.8,263.3 126.7,258.5 128.5,251.4 131.2,246.0"/></clipPath>
<g clip-path="url(#redc)" opacity="0.45"><use href="#mun"/></g>
<polygon points="44.3,337.5 47.2,338.5 58.9,339.4 68.6,338.5 71.5,337.5 78.3,337.5 79.3,341.4 84.1,343.3 93.8,344.3 96.8,340.4 105.5,338.5 113.3,334.6 125.0,331.7 130.8,330.7 132.7,339.4 134.7,349.1 136.6,356.0 128.8,356.9 119.1,360.8 111.3,365.7 103.6,369.6 98.7,368.6 91.9,364.7 84.1,361.8 74.4,360.8 64.7,359.8 53.0,359.8 43.3,361.8 37.5,364.7 32.6,366.6 33.6,362.8 36.5,356.9 38.5,351.1 40.4,343.3" fill="#000"/>
<clipPath id="blk"><polygon points="44.3,337.5 47.2,338.5 58.9,339.4 68.6,338.5 71.5,337.5 78.3,337.5 79.3,341.4 84.1,343.3 93.8,344.3 96.8,340.4 105.5,338.5 113.3,334.6 125.0,331.7 130.8,330.7 132.7,339.4 134.7,349.1 136.6,356.0 128.8,356.9 119.1,360.8 111.3,365.7 103.6,369.6 98.7,368.6 91.9,364.7 84.1,361.8 74.4,360.8 64.7,359.8 53.0,359.8 43.3,361.8 37.5,364.7 32.6,366.6 33.6,362.8 36.5,356.9 38.5,351.1 40.4,343.3"/></clipPath>
<g clip-path="url(#blk)" style="filter:invert(0.6)"><use href="#mun"/></g>
<rect x="82.3" y="128.6" width="89.2" height="54.099999999999994" rx="8" ry="8" fill="none" stroke="#3a3a3a" stroke-width="2"/>
<rect x="71.5" y="184.3" width="100.5" height="62.19999999999999" rx="9" ry="9" fill="none" stroke="#3a3a3a" stroke-width="2"/>
<rect x="33.6" y="273.7" width="138.4" height="68.10000000000002" rx="9" ry="9" fill="none" stroke="#3a3a3a" stroke-width="2"/>
<path d="M8.8,0.5 L0.5,18.3 L8.8,9.5 Z" fill="#fff" stroke="#222" stroke-width="0.6"/>
<path d="M8.8,0.5 L17.6,18.3 L8.8,9.5 Z" fill="#111"/>
<text x="6.1" y="24.8" font-size="8.4" text-anchor="start" font-weight="normal" fill="#111" textLength="5.2" lengthAdjust="spacingAndGlyphs" >N</text>
<text x="179.7" y="143.5" font-size="11" text-anchor="start" font-weight="normal" fill="#262626" textLength="96.8" lengthAdjust="spacingAndGlyphs" stroke="#262626" stroke-width="0.18">Castelo Branco (CB)</text>
<text x="208.9" y="158" font-size="11" text-anchor="start" font-weight="normal" fill="#262626" textLength="37.9" lengthAdjust="spacingAndGlyphs" stroke="#262626" stroke-width="0.18">(<tspan font-style="italic">n</tspan>=535)</text>
<text x="180" y="212.9" font-size="11" text-anchor="start" font-weight="normal" fill="#262626" textLength="75" lengthAdjust="spacingAndGlyphs" stroke="#262626" stroke-width="0.18">Portalegre (PG)</text>
<text x="198.8" y="227" font-size="11" text-anchor="start" font-weight="normal" fill="#262626" textLength="37.2" lengthAdjust="spacingAndGlyphs" stroke="#262626" stroke-width="0.18">(<tspan font-style="italic">n</tspan>=217)</text>
<text x="191.4" y="312.2" font-size="11" text-anchor="start" font-weight="normal" fill="#262626" textLength="41.6" lengthAdjust="spacingAndGlyphs" stroke="#262626" stroke-width="0.18">Beja (BJ)</text>
<text x="193.3" y="326.8" font-size="11" text-anchor="start" font-weight="normal" fill="#262626" textLength="37.9" lengthAdjust="spacingAndGlyphs" stroke="#262626" stroke-width="0.18">(<tspan font-style="italic">n</tspan>=196)</text>
<path d="M306.5,46.5 L306.5,125.9 L437,125.9" fill="none" stroke="#2a2a2a" stroke-width="1"/>
<path d="M303.5,125.9 L306.5,125.9" stroke="#2a2a2a" stroke-width="1"/>
<text x="302.7" y="128.0" font-size="5.8" text-anchor="end" font-weight="bold" fill="#111" stroke="#111" stroke-width="0.25">0</text>
<path d="M303.5,99.6 L306.5,99.6" stroke="#2a2a2a" stroke-width="1"/>
<text x="302.7" y="101.7" font-size="5.8" text-anchor="end" font-weight="bold" fill="#111" stroke="#111" stroke-width="0.25">20</text>
<path d="M303.5,73.3 L306.5,73.3" stroke="#2a2a2a" stroke-width="1"/>
<text x="302.7" y="75.4" font-size="5.8" text-anchor="end" font-weight="bold" fill="#111" stroke="#111" stroke-width="0.25">40</text>
<path d="M303.5,47.0 L306.5,47.0" stroke="#2a2a2a" stroke-width="1"/>
<text x="302.7" y="49.1" font-size="5.8" text-anchor="end" font-weight="bold" fill="#111" stroke="#111" stroke-width="0.25">60</text>
<path d="M314.2,125.9 L314.2,128.4" stroke="#2a2a2a" stroke-width="1"/>
<text x="314.2" y="136.1" font-size="5.8" text-anchor="middle" font-weight="bold" fill="#111" stroke="#111" stroke-width="0.25">2000</text>
<path d="M352.6,125.9 L352.6,128.4" stroke="#2a2a2a" stroke-width="1"/>
<text x="352.6" y="136.1" font-size="5.8" text-anchor="middle" font-weight="bold" fill="#111" stroke="#111" stroke-width="0.25">2005</text>
<path d="M391.0,125.9 L391.0,128.4" stroke="#2a2a2a" stroke-width="1"/>
<text x="391.0" y="136.1" font-size="5.8" text-anchor="middle" font-weight="bold" fill="#111" stroke="#111" stroke-width="0.25">2010</text>
<path d="M429.4,125.9 L429.4,128.4" stroke="#2a2a2a" stroke-width="1"/>
<text x="429.4" y="136.1" font-size="5.8" text-anchor="middle" font-weight="bold" fill="#111" stroke="#111" stroke-width="0.25">2015</text>
<polyline points="337.2,124.7 344.9,122.0 352.6,124.7 360.3,115.6 368.0,111.0 375.6,91.1 383.3,100.8 391.0,113.9 398.7,113.9 406.4,87.4 414.0,95.1 421.7,101.8 429.4,82.5 437.1,61.9" fill="none" stroke="#3cb43c" stroke-width="1.2" stroke-linejoin="round"/>
<polyline points="360.3,122.9 368.0,124.7 375.6,107.6 383.3,107.6 391.0,116.3 398.7,117.9 406.4,90.4 414.0,99.1 421.7,85.8 429.4,75.5 437.1,75.5" fill="none" stroke="#3535b0" stroke-width="1.2" stroke-linejoin="round"/>
<polyline points="329.6,124.7 337.2,122.9 344.9,119.5 352.6,121.3 360.3,122.9 368.0,98.4 375.6,116.7 383.3,115.1 391.0,100.0 398.7,113.7 406.4,117.2 414.0,122.9 421.7,116.7 429.4,124.3 437.1,114.5" fill="none" stroke="#d8282e" stroke-width="1.2" stroke-linejoin="round"/>
<text x="317" y="56" font-size="9.4" text-anchor="start" font-weight="bold" fill="#111" textLength="10.8" lengthAdjust="spacingAndGlyphs" stroke="#111" stroke-width="0.3">CB</text>
<text transform="translate(292.9,116.8) rotate(-90)" font-size="6.6" fill="#5e5e5e" stroke="#5e5e5e" stroke-width="0.12" textLength="11.9" lengthAdjust="spacingAndGlyphs">Total</text>
<text transform="translate(292.9,102.7) rotate(-90)" font-size="6.6" fill="#5e5e5e" stroke="#5e5e5e" stroke-width="0.12" textLength="6.1" lengthAdjust="spacingAndGlyphs" font-style="italic">M.</text>
<text transform="translate(292.9,92.4) rotate(-90)" font-size="6.6" fill="#5e5e5e" stroke="#5e5e5e" stroke-width="0.12" textLength="14.1" lengthAdjust="spacingAndGlyphs" font-style="italic">bovis</text>
<text transform="translate(292.9,74.0) rotate(-90)" font-size="6.6" fill="#5e5e5e" stroke="#5e5e5e" stroke-width="0.12" textLength="18.3" lengthAdjust="spacingAndGlyphs">isolates</text><path d="M300.5,173 L300.5,248.4 L415.5,248.4" fill="none" stroke="#2a2a2a" stroke-width="1"/>
<path d="M297.5,248.4 L300.5,248.4" stroke="#2a2a2a" stroke-width="1"/>
<text x="297.5" y="250.4" font-size="5.6" text-anchor="end" font-weight="bold" fill="#111" stroke="#111" stroke-width="0.25">0</text>
<path d="M297.5,229.5 L300.5,229.5" stroke="#2a2a2a" stroke-width="1"/>
<text x="297.5" y="231.5" font-size="5.6" text-anchor="end" font-weight="bold" fill="#111" stroke="#111" stroke-width="0.25">10</text>
<path d="M297.5,210.6 L300.5,210.6" stroke="#2a2a2a" stroke-width="1"/>
<text x="297.5" y="212.6" font-size="5.6" text-anchor="end" font-weight="bold" fill="#111" stroke="#111" stroke-width="0.25">20</text>
<path d="M297.5,191.7 L300.5,191.7" stroke="#2a2a2a" stroke-width="1"/>
<text x="297.5" y="193.7" font-size="5.6" text-anchor="end" font-weight="bold" fill="#111" stroke="#111" stroke-width="0.25">30</text>
<path d="M297.5,172.8 L300.5,172.8" stroke="#2a2a2a" stroke-width="1"/>
<text x="297.5" y="174.8" font-size="5.6" text-anchor="end" font-weight="bold" fill="#111" stroke="#111" stroke-width="0.25">40</text>
<path d="M307.6,248.4 L307.6,250.9" stroke="#2a2a2a" stroke-width="1"/>
<text x="307.6" y="257.8" font-size="5.6" text-anchor="middle" font-weight="bold" fill="#111" stroke="#111" stroke-width="0.25">2000</text>
<path d="M341.2,248.4 L341.2,250.9" stroke="#2a2a2a" stroke-width="1"/>
<text x="341.2" y="257.8" font-size="5.6" text-anchor="middle" font-weight="bold" fill="#111" stroke="#111" stroke-width="0.25">2005</text>
<path d="M374.7,248.4 L374.7,250.9" stroke="#2a2a2a" stroke-width="1"/>
<text x="374.7" y="257.8" font-size="5.6" text-anchor="middle" font-weight="bold" fill="#111" stroke="#111" stroke-width="0.25">2010</text>
<path d="M408.2,248.4 L408.2,250.9" stroke="#2a2a2a" stroke-width="1"/>
<text x="408.2" y="257.8" font-size="5.6" text-anchor="middle" font-weight="bold" fill="#111" stroke="#111" stroke-width="0.25">2015</text>
<polyline points="327.7,237.2 334.4,244.8 341.2,244.8 347.9,241.2 354.6,214.6 361.3,233.3 368.0,223.8 374.7,222.1 381.4,212.9 388.1,235.2 394.8,222.3 401.5,222.3 408.2,237.4 415.0,235.2" fill="none" stroke="#d8282e" stroke-width="1.2" stroke-linejoin="round"/>
<polyline points="381.4,246.1 388.1,246.1 394.8,233.3 401.5,220.2 408.2,239.0 415.0,235.2" fill="none" stroke="#3cb43c" stroke-width="1.2" stroke-linejoin="round"/>
<polyline points="381.4,244.6 388.1,243.5 394.8,237.6 401.5,231.4 408.2,237.1 415.0,222.3" fill="none" stroke="#3535b0" stroke-width="1.2" stroke-linejoin="round"/>
<text x="315.7" y="182.4" font-size="9.4" text-anchor="start" font-weight="bold" fill="#111" textLength="11.7" lengthAdjust="spacingAndGlyphs" stroke="#111" stroke-width="0.3">PG</text>
<text transform="translate(288.3,238.9) rotate(-90)" font-size="6.4" fill="#5e5e5e" stroke="#5e5e5e" stroke-width="0.12" textLength="11.2" lengthAdjust="spacingAndGlyphs">Total</text>
<text transform="translate(288.3,225.7) rotate(-90)" font-size="6.4" fill="#5e5e5e" stroke="#5e5e5e" stroke-width="0.12" textLength="5.7" lengthAdjust="spacingAndGlyphs" font-style="italic">M.</text>
<text transform="translate(288.3,216.0) rotate(-90)" font-size="6.4" fill="#5e5e5e" stroke="#5e5e5e" stroke-width="0.12" textLength="13.2" lengthAdjust="spacingAndGlyphs" font-style="italic">bovis</text>
<text transform="translate(288.3,198.9) rotate(-90)" font-size="6.4" fill="#5e5e5e" stroke="#5e5e5e" stroke-width="0.12" textLength="17.2" lengthAdjust="spacingAndGlyphs">isolates</text><path d="M278.8,285.6 L278.8,364.9 L398,364.9" fill="none" stroke="#2a2a2a" stroke-width="1"/>
<path d="M275.8,364.9 L278.8,364.9" stroke="#2a2a2a" stroke-width="1"/>
<text x="275.8" y="366.9" font-size="5.6" text-anchor="end" font-weight="bold" fill="#111" stroke="#111" stroke-width="0.25">0</text>
<path d="M275.8,345.2 L278.8,345.2" stroke="#2a2a2a" stroke-width="1"/>
<text x="275.8" y="347.2" font-size="5.6" text-anchor="end" font-weight="bold" fill="#111" stroke="#111" stroke-width="0.25">10</text>
<path d="M275.8,325.5 L278.8,325.5" stroke="#2a2a2a" stroke-width="1"/>
<text x="275.8" y="327.5" font-size="5.6" text-anchor="end" font-weight="bold" fill="#111" stroke="#111" stroke-width="0.25">20</text>
<path d="M275.8,305.8 L278.8,305.8" stroke="#2a2a2a" stroke-width="1"/>
<text x="275.8" y="307.8" font-size="5.6" text-anchor="end" font-weight="bold" fill="#111" stroke="#111" stroke-width="0.25">30</text>
<path d="M275.8,286.1 L278.8,286.1" stroke="#2a2a2a" stroke-width="1"/>
<text x="275.8" y="288.1" font-size="5.6" text-anchor="end" font-weight="bold" fill="#111" stroke="#111" stroke-width="0.25">40</text>
<path d="M285.2,364.9 L285.2,367.4" stroke="#2a2a2a" stroke-width="1"/>
<text x="285.2" y="375.5" font-size="5.6" text-anchor="middle" font-weight="bold" fill="#111" stroke="#111" stroke-width="0.25">2000</text>
<path d="M320.1,364.9 L320.1,367.4" stroke="#2a2a2a" stroke-width="1"/>
<text x="320.1" y="375.5" font-size="5.6" text-anchor="middle" font-weight="bold" fill="#111" stroke="#111" stroke-width="0.25">2005</text>
<path d="M355.1,364.9 L355.1,367.4" stroke="#2a2a2a" stroke-width="1"/>
<text x="355.1" y="375.5" font-size="5.6" text-anchor="middle" font-weight="bold" fill="#111" stroke="#111" stroke-width="0.25">2010</text>
<path d="M390.1,364.9 L390.1,367.4" stroke="#2a2a2a" stroke-width="1"/>
<text x="390.1" y="375.5" font-size="5.6" text-anchor="middle" font-weight="bold" fill="#111" stroke="#111" stroke-width="0.25">2015</text>
<polyline points="313.2,315.6 320.1,321.6 327.1,327.5 334.1,309.7 341.1,337.9 348.1,355.2 355.1,295.8 362.1,356.8 369.1,353.5 376.1,351.1 383.1,359.2 390.1,357.2 397.0,353.5" fill="none" stroke="#d8282e" stroke-width="1.2" stroke-linejoin="round"/>
<polyline points="306.2,363.3 313.2,363.3 320.1,361.2 327.1,359.2 334.1,357.2 341.1,357.2 348.1,357.2 355.1,357.2 362.1,357.2 369.1,357.2 376.1,361.0 383.1,361.0 390.1,361.0 397.0,363.3" fill="none" stroke="#3cb43c" stroke-width="1.2" stroke-linejoin="round"/>
<polyline points="306.2,363.3 313.2,363.3 320.1,363.3 327.1,363.3 334.1,363.3 341.1,359.4 348.1,355.2 355.1,351.3 362.1,347.4 369.1,353.1 376.1,355.0 383.1,363.3 390.1,363.3 397.0,363.3" fill="none" stroke="#3535b0" stroke-width="1.2" stroke-linejoin="round"/>
<text x="289.6" y="297.4" font-size="9.4" text-anchor="start" font-weight="bold" fill="#111" textLength="9.8" lengthAdjust="spacingAndGlyphs" stroke="#111" stroke-width="0.3">BJ</text>
<text transform="translate(265.2,358.7) rotate(-90)" font-size="6.6" fill="#5e5e5e" stroke="#5e5e5e" stroke-width="0.12" textLength="11.9" lengthAdjust="spacingAndGlyphs">Total</text>
<text transform="translate(265.2,344.6) rotate(-90)" font-size="6.6" fill="#5e5e5e" stroke="#5e5e5e" stroke-width="0.12" textLength="6.1" lengthAdjust="spacingAndGlyphs" font-style="italic">M.</text>
<text transform="translate(265.2,334.3) rotate(-90)" font-size="6.6" fill="#5e5e5e" stroke="#5e5e5e" stroke-width="0.12" textLength="14.1" lengthAdjust="spacingAndGlyphs" font-style="italic">bovis</text>
<text transform="translate(265.2,315.9) rotate(-90)" font-size="6.6" fill="#5e5e5e" stroke="#5e5e5e" stroke-width="0.12" textLength="18.3" lengthAdjust="spacingAndGlyphs">isolates</text><path d="M521.7,42.7 L521.7,133 L662,133" fill="none" stroke="#2a2a2a" stroke-width="1"/>
<path d="M518.7,133.0 L521.7,133.0" stroke="#2a2a2a" stroke-width="1"/>
<text x="516.9" y="135.6" font-size="7.2" text-anchor="end" font-weight="bold" fill="#111" stroke="#111" stroke-width="0.25">0</text>
<path d="M518.7,88.0 L521.7,88.0" stroke="#2a2a2a" stroke-width="1"/>
<text x="516.9" y="90.6" font-size="7.2" text-anchor="end" font-weight="bold" fill="#111" stroke="#111" stroke-width="0.25">50</text>
<path d="M518.7,43.1 L521.7,43.1" stroke="#2a2a2a" stroke-width="1"/>
<text x="516.9" y="45.7" font-size="7.2" text-anchor="end" font-weight="bold" fill="#111" stroke="#111" stroke-width="0.25">100</text>
<path d="M530.2,133 L530.2,135.5" stroke="#2a2a2a" stroke-width="1"/>
<text x="530.2" y="144.3" font-size="6.6" text-anchor="middle" font-weight="bold" fill="#111" stroke="#111" stroke-width="0.25">2000</text>
<path d="M570.6,133 L570.6,135.5" stroke="#2a2a2a" stroke-width="1"/>
<text x="570.6" y="144.3" font-size="6.6" text-anchor="middle" font-weight="bold" fill="#111" stroke="#111" stroke-width="0.25">2005</text>
<path d="M610.9,133 L610.9,135.5" stroke="#2a2a2a" stroke-width="1"/>
<text x="610.9" y="144.3" font-size="6.6" text-anchor="middle" font-weight="bold" fill="#111" stroke="#111" stroke-width="0.25">2010</text>
<path d="M651.2,133 L651.2,135.5" stroke="#2a2a2a" stroke-width="1"/>
<text x="651.2" y="144.3" font-size="6.6" text-anchor="middle" font-weight="bold" fill="#111" stroke="#111" stroke-width="0.25">2015</text>
<polyline points="546.3,133.0 554.4,130.3 562.5,126.3 570.6,133.0 578.6,123.1 586.7,103.7 594.8,91.0 602.8,96.7 610.9,101.2 619.0,111.3 627.0,76.7 635.1,92.8 643.2,83.9 651.2,70.0 659.3,47.1" fill="none" stroke="#2e9bb2" stroke-width="1.4" stroke-linejoin="round"/>
<polyline points="546.3,133.0 554.4,128.4 562.5,130.9 570.6,130.9 578.6,130.1 586.7,116.9 594.8,126.3 602.8,121.7 610.9,120.4 619.0,114.1 627.0,123.1 635.1,111.4 643.2,99.1 651.2,117.4 659.3,102.4" fill="none" stroke="#f0a040" stroke-width="1.4" stroke-linejoin="round"/>
<polyline points="546.3,133.0 554.4,133.0 562.5,110.0 570.6,133.0 578.6,118.0 586.7,103.9 594.8,116.5 602.8,128.7 610.9,101.4 619.0,116.5 627.0,123.9 635.1,120.4 643.2,129.5 651.2,127.0 659.3,126.3" fill="none" stroke="#8030a8" stroke-width="1.4" stroke-linejoin="round"/>
<text x="533.6" y="51.5" font-size="9.4" text-anchor="start" font-weight="bold" fill="#111" textLength="72.8" lengthAdjust="spacingAndGlyphs" stroke="#111" stroke-width="0.3">Global evolution</text>
<text transform="translate(501.6,129.7) rotate(-90)" font-size="7.4" fill="#505050" stroke="#505050" stroke-width="0.12" textLength="15.0" lengthAdjust="spacingAndGlyphs">Total</text>
<text transform="translate(501.6,112.1) rotate(-90)" font-size="7.4" fill="#505050" stroke="#505050" stroke-width="0.12" textLength="7.7" lengthAdjust="spacingAndGlyphs" font-style="italic">M.</text>
<text transform="translate(501.6,99.0) rotate(-90)" font-size="7.4" fill="#505050" stroke="#505050" stroke-width="0.12" textLength="17.6" lengthAdjust="spacingAndGlyphs" font-style="italic">bovis</text>
<text transform="translate(501.6,76.0) rotate(-90)" font-size="7.4" fill="#505050" stroke="#505050" stroke-width="0.12" textLength="23.0" lengthAdjust="spacingAndGlyphs">Isolates</text>
<path d="M544,161.4 L553.8,161.4" stroke="#2e9bb2" stroke-width="1.1"/>
<text x="560" y="164" font-size="7.8" text-anchor="start" font-weight="normal" fill="#222" textLength="10.7" lengthAdjust="spacingAndGlyphs" stroke="#222" stroke-width="0.12">CB</text>
<path d="M584,161.4 L594,161.4" stroke="#f0a040" stroke-width="1.1"/>
<text x="599.7" y="164" font-size="7.8" text-anchor="start" font-weight="normal" fill="#222" textLength="11.3" lengthAdjust="spacingAndGlyphs" stroke="#222" stroke-width="0.12">PG</text>
<path d="M623.7,161.4 L633.8,161.4" stroke="#8030a8" stroke-width="1.1"/>
<text x="639.4" y="164" font-size="7.8" text-anchor="start" font-weight="normal" fill="#222" textLength="8.6" lengthAdjust="spacingAndGlyphs" stroke="#222" stroke-width="0.12">BJ</text>
<rect x="496.1" y="252.5" width="21.6" height="13.1" fill="#bfbfbf"/>
<rect x="496.3" y="273.6" width="21.7" height="13.2" fill="url(#lg_vt)" stroke="#c8202a" stroke-width="0.6"/>
<rect x="496.3" y="294.4" width="21.7" height="12.7" fill="url(#lg_hz)" stroke="#d04040" stroke-width="0.6"/>
<rect x="496.3" y="313.3" width="21.6" height="13.2" fill="#000"/>
<text x="521.6" y="261.6" font-size="8.2" text-anchor="start" font-weight="normal" fill="#222" textLength="139.7" lengthAdjust="spacingAndGlyphs" stroke="#222" stroke-width="0.12">Surveillance area for TB in wild ungulates</text>
<text x="522.9" y="282.5" font-size="8.2" text-anchor="start" font-weight="normal" fill="#222" textLength="107" lengthAdjust="spacingAndGlyphs" stroke="#222" stroke-width="0.12">High TB prevalence cattle herds</text>
<text x="523.4" y="303.3" font-size="8.2" text-anchor="start" font-weight="normal" fill="#222" textLength="148" lengthAdjust="spacingAndGlyphs" stroke="#222" stroke-width="0.12">Areas with <tspan font-style="italic">M. bovis</tspan> isolates under analysis</text>
<text x="523.4" y="321.3" font-size="8.2" text-anchor="start" font-weight="normal" fill="#222" textLength="106.6" lengthAdjust="spacingAndGlyphs" stroke="#222" stroke-width="0.12">Area with official TB free status</text>
<text x="573" y="339.5" font-size="8.2" text-anchor="start" font-weight="normal" fill="#222" textLength="45.8" lengthAdjust="spacingAndGlyphs" stroke="#222" stroke-width="0.12">Host species</text>
<path d="M531.3,355.5 L530.8,359 L530.6,362.5 L532.2,363.5 L534.8,363 L539.3,364.4 L542.3,367 L543.8,369.5 L543.3,372.6 L542.3,376.2 L544.3,376.2 L545.4,372.6 L545.9,370.5 L546.9,373.6 L546.4,375.6 L548.9,375.6 L548.4,370.5 L553.5,368 L559.6,367.5 L562.7,369.5 L561.7,374.6 L563.2,375.1 L564.7,370.5 L565.7,374.6 L566.2,376.7 L567.8,376.2 L567.3,372.6 L567.3,367.5 L568.3,364.4 L568.8,359.3 L567.8,354.3 L545.4,355.3 L539.3,355.1 L538.2,353.8 L537.5,355 L533,354.8 L531.8,353.5 Z" fill="#ff0a0a"/>
<path d="M576.3,353.5 L577,355.2 L580.6,355.6 L581.8,359.5 L584.5,362.5 L586,369.4 L585.5,376.2 L587.2,376.2 L588.3,369.4 L589.5,376.2 L590.6,376.2 L591.2,368.2 L597.5,367.6 L599.8,371.6 L599.2,376.8 L600.9,376.8 L602.6,370.5 L603.8,376.8 L604.9,376.8 L604.4,368.2 L606.1,360.8 L605.5,357.9 L602.1,356.8 L594,356.8 L590,356.3 L587.2,355.3 L585.5,352.5 L584.9,351.3 L586.5,348.5 L588.2,345.5 L589.7,343.2 L589.1,343 L587.6,345.2 L586.6,346.2 L585.6,348.2 L584,350.6 L582.4,349.5 L581,348.2 L580.6,348.6 L581.8,350 L582.4,351.2 L579,352 Z" fill="#22ff22"/>
<path d="M609.3,364 L612.3,360.9 L616.6,356 L620.9,354.2 L629.4,354.2 L640.5,356.6 L646.6,358.4 L650.8,362.1 L651.5,367 L650.8,375.6 L649,376.2 L647.8,370.7 L645.3,370.7 L641.7,375 L639.2,375 L641.1,370.1 L635.6,368.8 L630.7,369.4 L629.4,373.1 L630.7,375.6 L628.8,375.6 L627,371.3 L625.2,374.3 L623.3,376.8 L621.5,376.2 L623.3,371.9 L623.9,368.2 L619.7,366.4 L614.8,365.2 L610.5,365.2 Z" fill="#1a6fc8"/>
<text x="553.8" y="386.9" font-size="8.5" text-anchor="middle" font-weight="normal" fill="#222" stroke="#222" stroke-width="0.12">C</text>
<text x="593.5" y="386.9" font-size="8.5" text-anchor="middle" font-weight="normal" fill="#222" stroke="#222" stroke-width="0.12">RD</text>
<text x="634.4" y="386.9" font-size="8.5" text-anchor="middle" font-weight="normal" fill="#222" stroke="#222" stroke-width="0.12">WB</text>
</svg>
</body></html>
